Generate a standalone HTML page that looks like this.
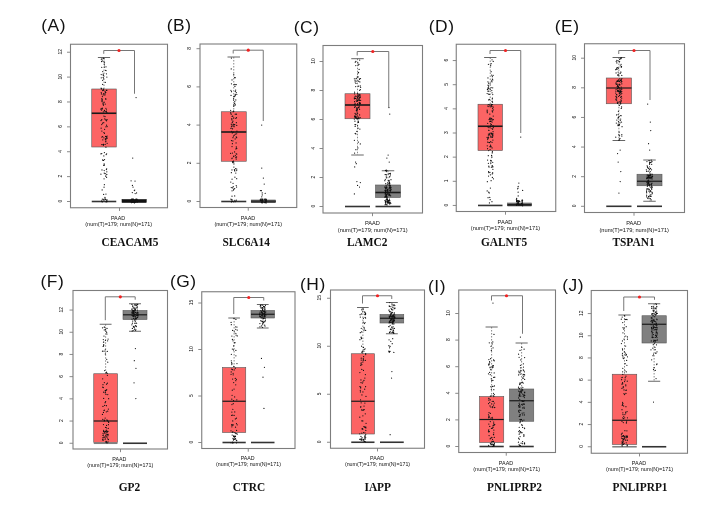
<!DOCTYPE html>
<html><head><meta charset="utf-8"><style>
html,body{margin:0;padding:0;background:#fff;}
body{width:711px;height:516px;overflow:hidden;}
svg{display:block;filter:blur(0.3px);}
</style></head><body>
<svg width="711" height="516" viewBox="0 0 711 516">
<rect width="711" height="516" fill="#fff"/>
<text x="41.3" y="30.6" style="font-family:&quot;Liberation Sans&quot;,sans-serif" font-size="17.4" font-weight="normal" text-anchor="start" fill="#111" letter-spacing="0.5">(A)</text>
<rect x="70.5" y="44.25" width="97" height="163.5" fill="none" stroke="#7d7d7d" stroke-width="1.1"/>
<line x1="67" y1="201.5" x2="70.5" y2="201.5" stroke="#7d7d7d" stroke-width="0.9"/>
<text x="62" y="201.5" style="font-family:&quot;Liberation Sans&quot;,sans-serif" font-size="6" font-weight="normal" text-anchor="middle" fill="#111" transform="translate(62 201.1) rotate(-90) scale(0.82 1) translate(-62 -201.5)">0</text>
<line x1="67" y1="176.62" x2="70.5" y2="176.62" stroke="#7d7d7d" stroke-width="0.9"/>
<text x="62" y="176.62" style="font-family:&quot;Liberation Sans&quot;,sans-serif" font-size="6" font-weight="normal" text-anchor="middle" fill="#111" transform="translate(62 176.22) rotate(-90) scale(0.82 1) translate(-62 -176.62)">2</text>
<line x1="67" y1="151.74" x2="70.5" y2="151.74" stroke="#7d7d7d" stroke-width="0.9"/>
<text x="62" y="151.74" style="font-family:&quot;Liberation Sans&quot;,sans-serif" font-size="6" font-weight="normal" text-anchor="middle" fill="#111" transform="translate(62 151.34) rotate(-90) scale(0.82 1) translate(-62 -151.74)">4</text>
<line x1="67" y1="126.86" x2="70.5" y2="126.86" stroke="#7d7d7d" stroke-width="0.9"/>
<text x="62" y="126.86" style="font-family:&quot;Liberation Sans&quot;,sans-serif" font-size="6" font-weight="normal" text-anchor="middle" fill="#111" transform="translate(62 126.46) rotate(-90) scale(0.82 1) translate(-62 -126.86)">6</text>
<line x1="67" y1="101.98" x2="70.5" y2="101.98" stroke="#7d7d7d" stroke-width="0.9"/>
<text x="62" y="101.98" style="font-family:&quot;Liberation Sans&quot;,sans-serif" font-size="6" font-weight="normal" text-anchor="middle" fill="#111" transform="translate(62 101.58) rotate(-90) scale(0.82 1) translate(-62 -101.98)">8</text>
<line x1="67" y1="77.1" x2="70.5" y2="77.1" stroke="#7d7d7d" stroke-width="0.9"/>
<text x="62" y="77.1" style="font-family:&quot;Liberation Sans&quot;,sans-serif" font-size="6" font-weight="normal" text-anchor="middle" fill="#111" transform="translate(62 76.7) rotate(-90) scale(0.82 1) translate(-62 -77.1)">10</text>
<line x1="67" y1="52.22" x2="70.5" y2="52.22" stroke="#7d7d7d" stroke-width="0.9"/>
<text x="62" y="52.22" style="font-family:&quot;Liberation Sans&quot;,sans-serif" font-size="6" font-weight="normal" text-anchor="middle" fill="#111" transform="translate(62 51.82) rotate(-90) scale(0.82 1) translate(-62 -52.22)">12</text>
<line x1="119.5" y1="207.75" x2="119.5" y2="210.95" stroke="#7d7d7d" stroke-width="0.9"/>
<text x="118.05" y="219.75" style="font-family:&quot;Liberation Sans&quot;,sans-serif" font-size="5.4" font-weight="normal" text-anchor="middle" fill="#111">PAAD</text>
<text x="118.7" y="225.9" style="font-family:&quot;Liberation Sans&quot;,sans-serif" font-size="5.45" font-weight="normal" text-anchor="middle" fill="#111">(num(T)=179; num(N)=171)</text>
<text x="0" y="0" style="font-family:&quot;Liberation Serif&quot;,serif" font-size="11.4" font-weight="bold" text-anchor="middle" fill="#111" transform="translate(130 246.3) scale(1 1.12)">CEACAM5</text>
<line x1="104" y1="57.5" x2="104" y2="89" stroke="#555" stroke-width="0.7" stroke-dasharray="1.5,1.5"/>
<line x1="97.88" y1="57.5" x2="110.12" y2="57.5" stroke="#555" stroke-width="0.9"/>
<rect x="91.75" y="89" width="24.5" height="58" fill="#fc6464" stroke="#555" stroke-width="0.6"/>
<line x1="91.75" y1="113.25" x2="116.25" y2="113.25" stroke="#1a1a1a" stroke-width="1.6"/>
<line x1="91.75" y1="201.5" x2="116.25" y2="201.5" stroke="#333" stroke-width="1.6"/>
<rect x="122" y="199.5" width="24.25" height="3" fill="#111" stroke="#111" stroke-width="0.6"/>
<line x1="103.75" y1="50.5" x2="134.5" y2="50.5" stroke="#777" stroke-width="1"/>
<line x1="103.75" y1="50.5" x2="103.75" y2="53.8" stroke="#777" stroke-width="1"/>
<line x1="134.5" y1="50.5" x2="134.5" y2="93.75" stroke="#777" stroke-width="1"/>
<circle cx="119" cy="50.5" r="1.6" fill="#f02222"/>
<text x="166.8" y="30.75" style="font-family:&quot;Liberation Sans&quot;,sans-serif" font-size="17.4" font-weight="normal" text-anchor="start" fill="#111" letter-spacing="0.5">(B)</text>
<rect x="200" y="44" width="96.75" height="163.5" fill="none" stroke="#7d7d7d" stroke-width="1.1"/>
<line x1="196.5" y1="201.5" x2="200" y2="201.5" stroke="#7d7d7d" stroke-width="0.9"/>
<text x="191" y="201.5" style="font-family:&quot;Liberation Sans&quot;,sans-serif" font-size="6" font-weight="normal" text-anchor="middle" fill="#111" transform="translate(191 201.1) rotate(-90) scale(0.82 1) translate(-191 -201.5)">0</text>
<line x1="196.5" y1="163.3" x2="200" y2="163.3" stroke="#7d7d7d" stroke-width="0.9"/>
<text x="191" y="163.3" style="font-family:&quot;Liberation Sans&quot;,sans-serif" font-size="6" font-weight="normal" text-anchor="middle" fill="#111" transform="translate(191 162.9) rotate(-90) scale(0.82 1) translate(-191 -163.3)">2</text>
<line x1="196.5" y1="125.1" x2="200" y2="125.1" stroke="#7d7d7d" stroke-width="0.9"/>
<text x="191" y="125.1" style="font-family:&quot;Liberation Sans&quot;,sans-serif" font-size="6" font-weight="normal" text-anchor="middle" fill="#111" transform="translate(191 124.7) rotate(-90) scale(0.82 1) translate(-191 -125.1)">4</text>
<line x1="196.5" y1="86.9" x2="200" y2="86.9" stroke="#7d7d7d" stroke-width="0.9"/>
<text x="191" y="86.9" style="font-family:&quot;Liberation Sans&quot;,sans-serif" font-size="6" font-weight="normal" text-anchor="middle" fill="#111" transform="translate(191 86.5) rotate(-90) scale(0.82 1) translate(-191 -86.9)">6</text>
<line x1="196.5" y1="48.7" x2="200" y2="48.7" stroke="#7d7d7d" stroke-width="0.9"/>
<text x="191" y="48.7" style="font-family:&quot;Liberation Sans&quot;,sans-serif" font-size="6" font-weight="normal" text-anchor="middle" fill="#111" transform="translate(191 48.3) rotate(-90) scale(0.82 1) translate(-191 -48.7)">8</text>
<line x1="248.25" y1="207.5" x2="248.25" y2="210.7" stroke="#7d7d7d" stroke-width="0.9"/>
<text x="248" y="220.03" style="font-family:&quot;Liberation Sans&quot;,sans-serif" font-size="5.47" font-weight="normal" text-anchor="middle" fill="#111">PAAD</text>
<text x="248.25" y="226.02" style="font-family:&quot;Liberation Sans&quot;,sans-serif" font-size="5.52" font-weight="normal" text-anchor="middle" fill="#111">(num(T)=179; num(N)=171)</text>
<text x="0" y="0" style="font-family:&quot;Liberation Serif&quot;,serif" font-size="11.4" font-weight="bold" text-anchor="middle" fill="#111" transform="translate(246.25 246.3) scale(1 1.12)">SLC6A14</text>
<line x1="233.75" y1="57" x2="233.75" y2="111.75" stroke="#555" stroke-width="0.7" stroke-dasharray="1.5,1.5"/>
<line x1="227.5" y1="57" x2="240" y2="57" stroke="#555" stroke-width="0.9"/>
<rect x="221.25" y="111.75" width="25" height="49.5" fill="#fc6464" stroke="#555" stroke-width="0.6"/>
<line x1="221.25" y1="132" x2="246.25" y2="132" stroke="#1a1a1a" stroke-width="1.6"/>
<line x1="221.25" y1="201.5" x2="246.25" y2="201.5" stroke="#333" stroke-width="1.6"/>
<rect x="251.25" y="200" width="24.25" height="2.5" fill="#808080" stroke="#555" stroke-width="0.6"/>
<line x1="251.25" y1="201.5" x2="275.5" y2="201.5" stroke="#1a1a1a" stroke-width="1.6"/>
<line x1="251.25" y1="201.5" x2="275.5" y2="201.5" stroke="#333" stroke-width="1.6"/>
<line x1="233.2" y1="50.2" x2="263.25" y2="50.2" stroke="#777" stroke-width="1"/>
<line x1="233.2" y1="50.2" x2="233.2" y2="53.5" stroke="#777" stroke-width="1"/>
<line x1="263.25" y1="50.2" x2="263.25" y2="121" stroke="#777" stroke-width="1"/>
<circle cx="248.25" cy="50.2" r="1.6" fill="#f02222"/>
<text x="293.8" y="32.75" style="font-family:&quot;Liberation Sans&quot;,sans-serif" font-size="17.4" font-weight="normal" text-anchor="start" fill="#111" letter-spacing="0.5">(C)</text>
<rect x="323" y="45.5" width="99.5" height="167.5" fill="none" stroke="#7d7d7d" stroke-width="1.1"/>
<line x1="319.5" y1="206.5" x2="323" y2="206.5" stroke="#7d7d7d" stroke-width="0.9"/>
<text x="314.75" y="206.5" style="font-family:&quot;Liberation Sans&quot;,sans-serif" font-size="6" font-weight="normal" text-anchor="middle" fill="#111" transform="translate(314.75 206.1) rotate(-90) scale(0.82 1) translate(-314.75 -206.5)">0</text>
<line x1="319.5" y1="177.5" x2="323" y2="177.5" stroke="#7d7d7d" stroke-width="0.9"/>
<text x="314.75" y="177.5" style="font-family:&quot;Liberation Sans&quot;,sans-serif" font-size="6" font-weight="normal" text-anchor="middle" fill="#111" transform="translate(314.75 177.1) rotate(-90) scale(0.82 1) translate(-314.75 -177.5)">2</text>
<line x1="319.5" y1="148.5" x2="323" y2="148.5" stroke="#7d7d7d" stroke-width="0.9"/>
<text x="314.75" y="148.5" style="font-family:&quot;Liberation Sans&quot;,sans-serif" font-size="6" font-weight="normal" text-anchor="middle" fill="#111" transform="translate(314.75 148.1) rotate(-90) scale(0.82 1) translate(-314.75 -148.5)">4</text>
<line x1="319.5" y1="119.5" x2="323" y2="119.5" stroke="#7d7d7d" stroke-width="0.9"/>
<text x="314.75" y="119.5" style="font-family:&quot;Liberation Sans&quot;,sans-serif" font-size="6" font-weight="normal" text-anchor="middle" fill="#111" transform="translate(314.75 119.1) rotate(-90) scale(0.82 1) translate(-314.75 -119.5)">6</text>
<line x1="319.5" y1="90.5" x2="323" y2="90.5" stroke="#7d7d7d" stroke-width="0.9"/>
<text x="314.75" y="90.5" style="font-family:&quot;Liberation Sans&quot;,sans-serif" font-size="6" font-weight="normal" text-anchor="middle" fill="#111" transform="translate(314.75 90.1) rotate(-90) scale(0.82 1) translate(-314.75 -90.5)">8</text>
<line x1="319.5" y1="61.5" x2="323" y2="61.5" stroke="#7d7d7d" stroke-width="0.9"/>
<text x="314.75" y="61.5" style="font-family:&quot;Liberation Sans&quot;,sans-serif" font-size="6" font-weight="normal" text-anchor="middle" fill="#111" transform="translate(314.75 61.1) rotate(-90) scale(0.82 1) translate(-314.75 -61.5)">10</text>
<line x1="372.5" y1="213" x2="372.5" y2="216.2" stroke="#7d7d7d" stroke-width="0.9"/>
<text x="372.4" y="225.09" style="font-family:&quot;Liberation Sans&quot;,sans-serif" font-size="5.65" font-weight="normal" text-anchor="middle" fill="#111">PAAD</text>
<text x="372.7" y="231.77" style="font-family:&quot;Liberation Sans&quot;,sans-serif" font-size="5.7" font-weight="normal" text-anchor="middle" fill="#111">(num(T)=179; num(N)=171)</text>
<text x="0" y="0" style="font-family:&quot;Liberation Serif&quot;,serif" font-size="11.4" font-weight="bold" text-anchor="middle" fill="#111" transform="translate(367.25 246.3) scale(1 1.12)">LAMC2</text>
<line x1="357.5" y1="58.7" x2="357.5" y2="93.75" stroke="#555" stroke-width="0.7" stroke-dasharray="1.5,1.5"/>
<line x1="351.25" y1="58.7" x2="363.75" y2="58.7" stroke="#555" stroke-width="0.9"/>
<line x1="357.5" y1="118.75" x2="357.5" y2="155" stroke="#555" stroke-width="0.7" stroke-dasharray="1.5,1.5"/>
<line x1="351.25" y1="155" x2="363.75" y2="155" stroke="#555" stroke-width="0.9"/>
<rect x="345" y="93.75" width="25" height="25" fill="#fc6464" stroke="#555" stroke-width="0.6"/>
<line x1="345" y1="105" x2="370" y2="105" stroke="#1a1a1a" stroke-width="1.6"/>
<line x1="345" y1="206.5" x2="370" y2="206.5" stroke="#333" stroke-width="1.6"/>
<line x1="388" y1="170.75" x2="388" y2="185" stroke="#555" stroke-width="0.7" stroke-dasharray="1.5,1.5"/>
<line x1="381.75" y1="170.75" x2="394.25" y2="170.75" stroke="#555" stroke-width="0.9"/>
<rect x="375.5" y="185" width="25" height="12.5" fill="#808080" stroke="#555" stroke-width="0.6"/>
<line x1="375.5" y1="192.5" x2="400.5" y2="192.5" stroke="#1a1a1a" stroke-width="1.6"/>
<line x1="375.5" y1="206.5" x2="400.5" y2="206.5" stroke="#333" stroke-width="1.6"/>
<line x1="357.2" y1="51.5" x2="388.75" y2="51.5" stroke="#777" stroke-width="1"/>
<line x1="357.2" y1="51.5" x2="357.2" y2="55.5" stroke="#777" stroke-width="1"/>
<line x1="388.75" y1="51.5" x2="388.75" y2="107.5" stroke="#777" stroke-width="1"/>
<circle cx="372.8" cy="51.5" r="1.6" fill="#f02222"/>
<text x="428.8" y="31.5" style="font-family:&quot;Liberation Sans&quot;,sans-serif" font-size="17.4" font-weight="normal" text-anchor="start" fill="#111" letter-spacing="0.5">(D)</text>
<rect x="456.25" y="44.25" width="99.5" height="167.25" fill="none" stroke="#7d7d7d" stroke-width="1.1"/>
<line x1="452.75" y1="205.45" x2="456.25" y2="205.45" stroke="#7d7d7d" stroke-width="0.9"/>
<text x="448" y="205.45" style="font-family:&quot;Liberation Sans&quot;,sans-serif" font-size="6" font-weight="normal" text-anchor="middle" fill="#111" transform="translate(448 205.05) rotate(-90) scale(0.82 1) translate(-448 -205.45)">0</text>
<line x1="452.75" y1="181.3" x2="456.25" y2="181.3" stroke="#7d7d7d" stroke-width="0.9"/>
<text x="448" y="181.3" style="font-family:&quot;Liberation Sans&quot;,sans-serif" font-size="6" font-weight="normal" text-anchor="middle" fill="#111" transform="translate(448 180.9) rotate(-90) scale(0.82 1) translate(-448 -181.3)">1</text>
<line x1="452.75" y1="157.15" x2="456.25" y2="157.15" stroke="#7d7d7d" stroke-width="0.9"/>
<text x="448" y="157.15" style="font-family:&quot;Liberation Sans&quot;,sans-serif" font-size="6" font-weight="normal" text-anchor="middle" fill="#111" transform="translate(448 156.75) rotate(-90) scale(0.82 1) translate(-448 -157.15)">2</text>
<line x1="452.75" y1="133" x2="456.25" y2="133" stroke="#7d7d7d" stroke-width="0.9"/>
<text x="448" y="133" style="font-family:&quot;Liberation Sans&quot;,sans-serif" font-size="6" font-weight="normal" text-anchor="middle" fill="#111" transform="translate(448 132.6) rotate(-90) scale(0.82 1) translate(-448 -133)">3</text>
<line x1="452.75" y1="108.85" x2="456.25" y2="108.85" stroke="#7d7d7d" stroke-width="0.9"/>
<text x="448" y="108.85" style="font-family:&quot;Liberation Sans&quot;,sans-serif" font-size="6" font-weight="normal" text-anchor="middle" fill="#111" transform="translate(448 108.45) rotate(-90) scale(0.82 1) translate(-448 -108.85)">4</text>
<line x1="452.75" y1="84.7" x2="456.25" y2="84.7" stroke="#7d7d7d" stroke-width="0.9"/>
<text x="448" y="84.7" style="font-family:&quot;Liberation Sans&quot;,sans-serif" font-size="6" font-weight="normal" text-anchor="middle" fill="#111" transform="translate(448 84.3) rotate(-90) scale(0.82 1) translate(-448 -84.7)">5</text>
<line x1="452.75" y1="60.55" x2="456.25" y2="60.55" stroke="#7d7d7d" stroke-width="0.9"/>
<text x="448" y="60.55" style="font-family:&quot;Liberation Sans&quot;,sans-serif" font-size="6" font-weight="normal" text-anchor="middle" fill="#111" transform="translate(448 60.15) rotate(-90) scale(0.82 1) translate(-448 -60.55)">6</text>
<line x1="505.5" y1="211.5" x2="505.5" y2="214.7" stroke="#7d7d7d" stroke-width="0.9"/>
<text x="505" y="223.88" style="font-family:&quot;Liberation Sans&quot;,sans-serif" font-size="5.62" font-weight="normal" text-anchor="middle" fill="#111">PAAD</text>
<text x="505.5" y="230.46" style="font-family:&quot;Liberation Sans&quot;,sans-serif" font-size="5.67" font-weight="normal" text-anchor="middle" fill="#111">(num(T)=179; num(N)=171)</text>
<text x="0" y="0" style="font-family:&quot;Liberation Serif&quot;,serif" font-size="11.4" font-weight="bold" text-anchor="middle" fill="#111" transform="translate(504 246.3) scale(1 1.12)">GALNT5</text>
<line x1="490.25" y1="57.5" x2="490.25" y2="104.25" stroke="#555" stroke-width="0.7" stroke-dasharray="1.5,1.5"/>
<line x1="484.12" y1="57.5" x2="496.38" y2="57.5" stroke="#555" stroke-width="0.9"/>
<rect x="478" y="104.25" width="24.5" height="46.25" fill="#fc6464" stroke="#555" stroke-width="0.6"/>
<line x1="478" y1="126.25" x2="502.5" y2="126.25" stroke="#1a1a1a" stroke-width="1.6"/>
<line x1="478" y1="205.45" x2="502.5" y2="205.45" stroke="#333" stroke-width="1.6"/>
<rect x="507.5" y="203" width="24" height="2.5" fill="#808080" stroke="#555" stroke-width="0.6"/>
<line x1="507.5" y1="204.75" x2="531.5" y2="204.75" stroke="#1a1a1a" stroke-width="1.6"/>
<line x1="507.5" y1="205.45" x2="531.5" y2="205.45" stroke="#333" stroke-width="1.6"/>
<line x1="490" y1="50.5" x2="520.75" y2="50.5" stroke="#777" stroke-width="1"/>
<line x1="490" y1="50.5" x2="490" y2="54" stroke="#777" stroke-width="1"/>
<line x1="520.75" y1="50.5" x2="520.75" y2="133" stroke="#777" stroke-width="1"/>
<circle cx="505.5" cy="50.5" r="1.6" fill="#f02222"/>
<text x="554.8" y="32" style="font-family:&quot;Liberation Sans&quot;,sans-serif" font-size="17.4" font-weight="normal" text-anchor="start" fill="#111" letter-spacing="0.5">(E)</text>
<rect x="584.5" y="43.75" width="100" height="168.75" fill="none" stroke="#7d7d7d" stroke-width="1.1"/>
<line x1="581" y1="206.3" x2="584.5" y2="206.3" stroke="#7d7d7d" stroke-width="0.9"/>
<text x="576" y="206.3" style="font-family:&quot;Liberation Sans&quot;,sans-serif" font-size="6" font-weight="normal" text-anchor="middle" fill="#111" transform="translate(576 205.9) rotate(-90) scale(0.82 1) translate(-576 -206.3)">0</text>
<line x1="581" y1="176.68" x2="584.5" y2="176.68" stroke="#7d7d7d" stroke-width="0.9"/>
<text x="576" y="176.68" style="font-family:&quot;Liberation Sans&quot;,sans-serif" font-size="6" font-weight="normal" text-anchor="middle" fill="#111" transform="translate(576 176.28) rotate(-90) scale(0.82 1) translate(-576 -176.68)">2</text>
<line x1="581" y1="147.06" x2="584.5" y2="147.06" stroke="#7d7d7d" stroke-width="0.9"/>
<text x="576" y="147.06" style="font-family:&quot;Liberation Sans&quot;,sans-serif" font-size="6" font-weight="normal" text-anchor="middle" fill="#111" transform="translate(576 146.66) rotate(-90) scale(0.82 1) translate(-576 -147.06)">4</text>
<line x1="581" y1="117.44" x2="584.5" y2="117.44" stroke="#7d7d7d" stroke-width="0.9"/>
<text x="576" y="117.44" style="font-family:&quot;Liberation Sans&quot;,sans-serif" font-size="6" font-weight="normal" text-anchor="middle" fill="#111" transform="translate(576 117.04) rotate(-90) scale(0.82 1) translate(-576 -117.44)">6</text>
<line x1="581" y1="87.82" x2="584.5" y2="87.82" stroke="#7d7d7d" stroke-width="0.9"/>
<text x="576" y="87.82" style="font-family:&quot;Liberation Sans&quot;,sans-serif" font-size="6" font-weight="normal" text-anchor="middle" fill="#111" transform="translate(576 87.42) rotate(-90) scale(0.82 1) translate(-576 -87.82)">8</text>
<line x1="581" y1="58.2" x2="584.5" y2="58.2" stroke="#7d7d7d" stroke-width="0.9"/>
<text x="576" y="58.2" style="font-family:&quot;Liberation Sans&quot;,sans-serif" font-size="6" font-weight="normal" text-anchor="middle" fill="#111" transform="translate(576 57.8) rotate(-90) scale(0.82 1) translate(-576 -58.2)">10</text>
<line x1="634" y1="212.5" x2="634" y2="215.7" stroke="#7d7d7d" stroke-width="0.9"/>
<text x="633.6" y="224.98" style="font-family:&quot;Liberation Sans&quot;,sans-serif" font-size="5.61" font-weight="normal" text-anchor="middle" fill="#111">PAAD</text>
<text x="634.2" y="231.56" style="font-family:&quot;Liberation Sans&quot;,sans-serif" font-size="5.66" font-weight="normal" text-anchor="middle" fill="#111">(num(T)=179; num(N)=171)</text>
<text x="0" y="0" style="font-family:&quot;Liberation Serif&quot;,serif" font-size="11.4" font-weight="bold" text-anchor="middle" fill="#111" transform="translate(633.5 246.3) scale(1 1.12)">TSPAN1</text>
<line x1="618.88" y1="57.5" x2="618.88" y2="78" stroke="#555" stroke-width="0.7" stroke-dasharray="1.5,1.5"/>
<line x1="612.56" y1="57.5" x2="625.19" y2="57.5" stroke="#555" stroke-width="0.9"/>
<line x1="618.88" y1="103.75" x2="618.88" y2="140.5" stroke="#555" stroke-width="0.7" stroke-dasharray="1.5,1.5"/>
<line x1="612.56" y1="140.5" x2="625.19" y2="140.5" stroke="#555" stroke-width="0.9"/>
<rect x="606.25" y="78" width="25.25" height="25.75" fill="#fc6464" stroke="#555" stroke-width="0.6"/>
<line x1="606.25" y1="88" x2="631.5" y2="88" stroke="#1a1a1a" stroke-width="1.2"/>
<line x1="606.25" y1="206.3" x2="631.5" y2="206.3" stroke="#333" stroke-width="1.6"/>
<line x1="649.5" y1="160" x2="649.5" y2="174.25" stroke="#555" stroke-width="0.7" stroke-dasharray="1.5,1.5"/>
<line x1="643.25" y1="160" x2="655.75" y2="160" stroke="#555" stroke-width="0.9"/>
<line x1="649.5" y1="185.75" x2="649.5" y2="201.25" stroke="#555" stroke-width="0.7" stroke-dasharray="1.5,1.5"/>
<line x1="643.25" y1="201.25" x2="655.75" y2="201.25" stroke="#555" stroke-width="0.9"/>
<rect x="637" y="174.25" width="25" height="11.5" fill="#808080" stroke="#555" stroke-width="0.6"/>
<line x1="637" y1="181.25" x2="662" y2="181.25" stroke="#1a1a1a" stroke-width="1.2"/>
<line x1="637" y1="206.3" x2="662" y2="206.3" stroke="#333" stroke-width="1.6"/>
<line x1="618.75" y1="50.5" x2="650" y2="50.5" stroke="#777" stroke-width="1"/>
<line x1="618.75" y1="50.5" x2="618.75" y2="54" stroke="#777" stroke-width="1"/>
<line x1="650" y1="50.5" x2="650" y2="100" stroke="#777" stroke-width="1"/>
<circle cx="634" cy="50.5" r="1.6" fill="#f02222"/>
<text x="40.55" y="287" style="font-family:&quot;Liberation Sans&quot;,sans-serif" font-size="17.4" font-weight="normal" text-anchor="start" fill="#111" letter-spacing="0.5">(F)</text>
<rect x="73" y="290.5" width="94.5" height="158.5" fill="none" stroke="#7d7d7d" stroke-width="1.1"/>
<line x1="69.5" y1="443.25" x2="73" y2="443.25" stroke="#7d7d7d" stroke-width="0.9"/>
<text x="63.5" y="443.25" style="font-family:&quot;Liberation Sans&quot;,sans-serif" font-size="6" font-weight="normal" text-anchor="middle" fill="#111" transform="translate(63.5 442.85) rotate(-90) scale(0.82 1) translate(-63.5 -443.25)">0</text>
<line x1="69.5" y1="421.05" x2="73" y2="421.05" stroke="#7d7d7d" stroke-width="0.9"/>
<text x="63.5" y="421.05" style="font-family:&quot;Liberation Sans&quot;,sans-serif" font-size="6" font-weight="normal" text-anchor="middle" fill="#111" transform="translate(63.5 420.65) rotate(-90) scale(0.82 1) translate(-63.5 -421.05)">2</text>
<line x1="69.5" y1="398.85" x2="73" y2="398.85" stroke="#7d7d7d" stroke-width="0.9"/>
<text x="63.5" y="398.85" style="font-family:&quot;Liberation Sans&quot;,sans-serif" font-size="6" font-weight="normal" text-anchor="middle" fill="#111" transform="translate(63.5 398.45) rotate(-90) scale(0.82 1) translate(-63.5 -398.85)">4</text>
<line x1="69.5" y1="376.65" x2="73" y2="376.65" stroke="#7d7d7d" stroke-width="0.9"/>
<text x="63.5" y="376.65" style="font-family:&quot;Liberation Sans&quot;,sans-serif" font-size="6" font-weight="normal" text-anchor="middle" fill="#111" transform="translate(63.5 376.25) rotate(-90) scale(0.82 1) translate(-63.5 -376.65)">6</text>
<line x1="69.5" y1="354.45" x2="73" y2="354.45" stroke="#7d7d7d" stroke-width="0.9"/>
<text x="63.5" y="354.45" style="font-family:&quot;Liberation Sans&quot;,sans-serif" font-size="6" font-weight="normal" text-anchor="middle" fill="#111" transform="translate(63.5 354.05) rotate(-90) scale(0.82 1) translate(-63.5 -354.45)">8</text>
<line x1="69.5" y1="332.25" x2="73" y2="332.25" stroke="#7d7d7d" stroke-width="0.9"/>
<text x="63.5" y="332.25" style="font-family:&quot;Liberation Sans&quot;,sans-serif" font-size="6" font-weight="normal" text-anchor="middle" fill="#111" transform="translate(63.5 331.85) rotate(-90) scale(0.82 1) translate(-63.5 -332.25)">10</text>
<line x1="69.5" y1="310.05" x2="73" y2="310.05" stroke="#7d7d7d" stroke-width="0.9"/>
<text x="63.5" y="310.05" style="font-family:&quot;Liberation Sans&quot;,sans-serif" font-size="6" font-weight="normal" text-anchor="middle" fill="#111" transform="translate(63.5 309.65) rotate(-90) scale(0.82 1) translate(-63.5 -310.05)">12</text>
<line x1="120.5" y1="449" x2="120.5" y2="452.2" stroke="#7d7d7d" stroke-width="0.9"/>
<text x="119.4" y="461.28" style="font-family:&quot;Liberation Sans&quot;,sans-serif" font-size="5.34" font-weight="normal" text-anchor="middle" fill="#111">PAAD</text>
<text x="120.2" y="467.48" style="font-family:&quot;Liberation Sans&quot;,sans-serif" font-size="5.38" font-weight="normal" text-anchor="middle" fill="#111">(num(T)=179; num(N)=171)</text>
<text x="0" y="0" style="font-family:&quot;Liberation Serif&quot;,serif" font-size="11.4" font-weight="bold" text-anchor="middle" fill="#111" transform="translate(129.5 491.3) scale(1 1.12)">GP2</text>
<line x1="105.62" y1="324.25" x2="105.62" y2="373.75" stroke="#555" stroke-width="0.7" stroke-dasharray="1.5,1.5"/>
<line x1="99.69" y1="324.25" x2="111.56" y2="324.25" stroke="#555" stroke-width="0.9"/>
<rect x="93.75" y="373.75" width="23.75" height="68.75" fill="#fc6464" stroke="#555" stroke-width="0.6"/>
<line x1="93.75" y1="421" x2="117.5" y2="421" stroke="#1a1a1a" stroke-width="1.2"/>
<line x1="93.75" y1="443.25" x2="117.5" y2="443.25" stroke="#808080" stroke-width="1.6"/>
<line x1="135" y1="303.75" x2="135" y2="310.5" stroke="#555" stroke-width="0.7" stroke-dasharray="1.5,1.5"/>
<line x1="129" y1="303.75" x2="141" y2="303.75" stroke="#555" stroke-width="0.9"/>
<line x1="135" y1="319.5" x2="135" y2="331.25" stroke="#555" stroke-width="0.7" stroke-dasharray="1.5,1.5"/>
<line x1="129" y1="331.25" x2="141" y2="331.25" stroke="#555" stroke-width="0.9"/>
<rect x="123" y="310.5" width="24" height="9" fill="#808080" stroke="#555" stroke-width="0.6"/>
<line x1="123" y1="314.8" x2="147" y2="314.8" stroke="#1a1a1a" stroke-width="1.2"/>
<line x1="123" y1="443.25" x2="147" y2="443.25" stroke="#333" stroke-width="1.6"/>
<line x1="105.3" y1="296.8" x2="135.2" y2="296.8" stroke="#777" stroke-width="1"/>
<line x1="105.3" y1="296.8" x2="105.3" y2="320.2" stroke="#777" stroke-width="1"/>
<line x1="135.2" y1="296.8" x2="135.2" y2="299.7" stroke="#777" stroke-width="1"/>
<circle cx="120.3" cy="296.8" r="1.6" fill="#f02222"/>
<text x="170.05" y="287" style="font-family:&quot;Liberation Sans&quot;,sans-serif" font-size="17.4" font-weight="normal" text-anchor="start" fill="#111" letter-spacing="0.5">(G)</text>
<rect x="201.75" y="291.75" width="93.25" height="156.75" fill="none" stroke="#7d7d7d" stroke-width="1.1"/>
<line x1="198.25" y1="442.5" x2="201.75" y2="442.5" stroke="#7d7d7d" stroke-width="0.9"/>
<text x="193.5" y="442.5" style="font-family:&quot;Liberation Sans&quot;,sans-serif" font-size="6" font-weight="normal" text-anchor="middle" fill="#111" transform="translate(193.5 442.1) rotate(-90) scale(0.82 1) translate(-193.5 -442.5)">0</text>
<line x1="198.25" y1="396" x2="201.75" y2="396" stroke="#7d7d7d" stroke-width="0.9"/>
<text x="193.5" y="396" style="font-family:&quot;Liberation Sans&quot;,sans-serif" font-size="6" font-weight="normal" text-anchor="middle" fill="#111" transform="translate(193.5 395.6) rotate(-90) scale(0.82 1) translate(-193.5 -396)">5</text>
<line x1="198.25" y1="349.5" x2="201.75" y2="349.5" stroke="#7d7d7d" stroke-width="0.9"/>
<text x="193.5" y="349.5" style="font-family:&quot;Liberation Sans&quot;,sans-serif" font-size="6" font-weight="normal" text-anchor="middle" fill="#111" transform="translate(193.5 349.1) rotate(-90) scale(0.82 1) translate(-193.5 -349.5)">10</text>
<line x1="198.25" y1="303" x2="201.75" y2="303" stroke="#7d7d7d" stroke-width="0.9"/>
<text x="193.5" y="303" style="font-family:&quot;Liberation Sans&quot;,sans-serif" font-size="6" font-weight="normal" text-anchor="middle" fill="#111" transform="translate(193.5 302.6) rotate(-90) scale(0.82 1) translate(-193.5 -303)">15</text>
<line x1="248.25" y1="448.5" x2="248.25" y2="451.7" stroke="#7d7d7d" stroke-width="0.9"/>
<text x="247.6" y="460.44" style="font-family:&quot;Liberation Sans&quot;,sans-serif" font-size="5.25" font-weight="normal" text-anchor="middle" fill="#111">PAAD</text>
<text x="248.5" y="466.36" style="font-family:&quot;Liberation Sans&quot;,sans-serif" font-size="5.29" font-weight="normal" text-anchor="middle" fill="#111">(num(T)=179; num(N)=171)</text>
<text x="0" y="0" style="font-family:&quot;Liberation Serif&quot;,serif" font-size="11.4" font-weight="bold" text-anchor="middle" fill="#111" transform="translate(249 491.05) scale(1 1.12)">CTRC</text>
<line x1="234.12" y1="318" x2="234.12" y2="367.5" stroke="#555" stroke-width="0.7" stroke-dasharray="1.5,1.5"/>
<line x1="228.31" y1="318" x2="239.94" y2="318" stroke="#555" stroke-width="0.9"/>
<rect x="222.5" y="367.5" width="23.25" height="65" fill="#fc6464" stroke="#555" stroke-width="0.6"/>
<line x1="222.5" y1="401.25" x2="245.75" y2="401.25" stroke="#1a1a1a" stroke-width="1.2"/>
<line x1="222.5" y1="442.5" x2="245.75" y2="442.5" stroke="#333" stroke-width="1.6"/>
<line x1="262.75" y1="304.5" x2="262.75" y2="310.5" stroke="#555" stroke-width="0.7" stroke-dasharray="1.5,1.5"/>
<line x1="256.88" y1="304.5" x2="268.62" y2="304.5" stroke="#555" stroke-width="0.9"/>
<line x1="262.75" y1="318" x2="262.75" y2="328" stroke="#555" stroke-width="0.7" stroke-dasharray="1.5,1.5"/>
<line x1="256.88" y1="328" x2="268.62" y2="328" stroke="#555" stroke-width="0.9"/>
<rect x="251" y="310.5" width="23.5" height="7.5" fill="#808080" stroke="#555" stroke-width="0.6"/>
<line x1="251" y1="314.25" x2="274.5" y2="314.25" stroke="#1a1a1a" stroke-width="1.2"/>
<line x1="251" y1="442.5" x2="274.5" y2="442.5" stroke="#333" stroke-width="1.6"/>
<line x1="233.75" y1="297.5" x2="263.75" y2="297.5" stroke="#777" stroke-width="1"/>
<line x1="233.75" y1="297.5" x2="233.75" y2="314" stroke="#777" stroke-width="1"/>
<line x1="263.75" y1="297.5" x2="263.75" y2="300.5" stroke="#777" stroke-width="1"/>
<circle cx="248.75" cy="297.5" r="1.6" fill="#f02222"/>
<text x="300.05" y="289.5" style="font-family:&quot;Liberation Sans&quot;,sans-serif" font-size="17.4" font-weight="normal" text-anchor="start" fill="#111" letter-spacing="0.5">(H)</text>
<rect x="330.5" y="290" width="94" height="158.25" fill="none" stroke="#7d7d7d" stroke-width="1.1"/>
<line x1="327" y1="442.25" x2="330.5" y2="442.25" stroke="#7d7d7d" stroke-width="0.9"/>
<text x="321" y="442.25" style="font-family:&quot;Liberation Sans&quot;,sans-serif" font-size="6" font-weight="normal" text-anchor="middle" fill="#111" transform="translate(321 441.85) rotate(-90) scale(0.82 1) translate(-321 -442.25)">0</text>
<line x1="327" y1="394.25" x2="330.5" y2="394.25" stroke="#7d7d7d" stroke-width="0.9"/>
<text x="321" y="394.25" style="font-family:&quot;Liberation Sans&quot;,sans-serif" font-size="6" font-weight="normal" text-anchor="middle" fill="#111" transform="translate(321 393.85) rotate(-90) scale(0.82 1) translate(-321 -394.25)">5</text>
<line x1="327" y1="346.25" x2="330.5" y2="346.25" stroke="#7d7d7d" stroke-width="0.9"/>
<text x="321" y="346.25" style="font-family:&quot;Liberation Sans&quot;,sans-serif" font-size="6" font-weight="normal" text-anchor="middle" fill="#111" transform="translate(321 345.85) rotate(-90) scale(0.82 1) translate(-321 -346.25)">10</text>
<line x1="327" y1="298.25" x2="330.5" y2="298.25" stroke="#7d7d7d" stroke-width="0.9"/>
<text x="321" y="298.25" style="font-family:&quot;Liberation Sans&quot;,sans-serif" font-size="6" font-weight="normal" text-anchor="middle" fill="#111" transform="translate(321 297.85) rotate(-90) scale(0.82 1) translate(-321 -298.25)">15</text>
<line x1="377.5" y1="448.25" x2="377.5" y2="451.45" stroke="#7d7d7d" stroke-width="0.9"/>
<text x="377" y="460.45" style="font-family:&quot;Liberation Sans&quot;,sans-serif" font-size="5.27" font-weight="normal" text-anchor="middle" fill="#111">PAAD</text>
<text x="377.5" y="466.36" style="font-family:&quot;Liberation Sans&quot;,sans-serif" font-size="5.32" font-weight="normal" text-anchor="middle" fill="#111">(num(T)=179; num(N)=171)</text>
<text x="0" y="0" style="font-family:&quot;Liberation Serif&quot;,serif" font-size="11.4" font-weight="bold" text-anchor="middle" fill="#111" transform="translate(377.75 491.05) scale(1 1.12)">IAPP</text>
<line x1="362.88" y1="307.5" x2="362.88" y2="353.75" stroke="#555" stroke-width="0.7" stroke-dasharray="1.5,1.5"/>
<line x1="357.06" y1="307.5" x2="368.69" y2="307.5" stroke="#555" stroke-width="0.9"/>
<rect x="351.25" y="353.75" width="23.25" height="80.25" fill="#fc6464" stroke="#555" stroke-width="0.6"/>
<line x1="351.25" y1="401.25" x2="374.5" y2="401.25" stroke="#1a1a1a" stroke-width="1.2"/>
<line x1="351.25" y1="442.25" x2="374.5" y2="442.25" stroke="#333" stroke-width="1.6"/>
<line x1="391.88" y1="302.5" x2="391.88" y2="314.5" stroke="#555" stroke-width="0.7" stroke-dasharray="1.5,1.5"/>
<line x1="385.94" y1="302.5" x2="397.81" y2="302.5" stroke="#555" stroke-width="0.9"/>
<line x1="391.88" y1="323" x2="391.88" y2="333.75" stroke="#555" stroke-width="0.7" stroke-dasharray="1.5,1.5"/>
<line x1="385.94" y1="333.75" x2="397.81" y2="333.75" stroke="#555" stroke-width="0.9"/>
<rect x="380" y="314.5" width="23.75" height="8.5" fill="#808080" stroke="#555" stroke-width="0.6"/>
<line x1="380" y1="318.25" x2="403.75" y2="318.25" stroke="#1a1a1a" stroke-width="1.2"/>
<line x1="380" y1="442.25" x2="403.75" y2="442.25" stroke="#333" stroke-width="1.6"/>
<line x1="362.5" y1="295.75" x2="391.75" y2="295.75" stroke="#777" stroke-width="1"/>
<line x1="362.5" y1="295.75" x2="362.5" y2="303.5" stroke="#777" stroke-width="1"/>
<line x1="391.75" y1="295.75" x2="391.75" y2="299" stroke="#777" stroke-width="1"/>
<circle cx="377.5" cy="295.75" r="1.6" fill="#f02222"/>
<text x="428.05" y="292" style="font-family:&quot;Liberation Sans&quot;,sans-serif" font-size="17.4" font-weight="normal" text-anchor="start" fill="#111" letter-spacing="0.5">(I)</text>
<rect x="458.75" y="290" width="96.75" height="162.5" fill="none" stroke="#7d7d7d" stroke-width="1.1"/>
<line x1="455.25" y1="446.5" x2="458.75" y2="446.5" stroke="#7d7d7d" stroke-width="0.9"/>
<text x="449.75" y="446.5" style="font-family:&quot;Liberation Sans&quot;,sans-serif" font-size="6" font-weight="normal" text-anchor="middle" fill="#111" transform="translate(449.75 446.1) rotate(-90) scale(0.82 1) translate(-449.75 -446.5)">0</text>
<line x1="455.25" y1="419.9" x2="458.75" y2="419.9" stroke="#7d7d7d" stroke-width="0.9"/>
<text x="449.75" y="419.9" style="font-family:&quot;Liberation Sans&quot;,sans-serif" font-size="6" font-weight="normal" text-anchor="middle" fill="#111" transform="translate(449.75 419.5) rotate(-90) scale(0.82 1) translate(-449.75 -419.9)">2</text>
<line x1="455.25" y1="393.3" x2="458.75" y2="393.3" stroke="#7d7d7d" stroke-width="0.9"/>
<text x="449.75" y="393.3" style="font-family:&quot;Liberation Sans&quot;,sans-serif" font-size="6" font-weight="normal" text-anchor="middle" fill="#111" transform="translate(449.75 392.9) rotate(-90) scale(0.82 1) translate(-449.75 -393.3)">4</text>
<line x1="455.25" y1="366.7" x2="458.75" y2="366.7" stroke="#7d7d7d" stroke-width="0.9"/>
<text x="449.75" y="366.7" style="font-family:&quot;Liberation Sans&quot;,sans-serif" font-size="6" font-weight="normal" text-anchor="middle" fill="#111" transform="translate(449.75 366.3) rotate(-90) scale(0.82 1) translate(-449.75 -366.7)">6</text>
<line x1="455.25" y1="340.1" x2="458.75" y2="340.1" stroke="#7d7d7d" stroke-width="0.9"/>
<text x="449.75" y="340.1" style="font-family:&quot;Liberation Sans&quot;,sans-serif" font-size="6" font-weight="normal" text-anchor="middle" fill="#111" transform="translate(449.75 339.7) rotate(-90) scale(0.82 1) translate(-449.75 -340.1)">8</text>
<line x1="455.25" y1="313.5" x2="458.75" y2="313.5" stroke="#7d7d7d" stroke-width="0.9"/>
<text x="449.75" y="313.5" style="font-family:&quot;Liberation Sans&quot;,sans-serif" font-size="6" font-weight="normal" text-anchor="middle" fill="#111" transform="translate(449.75 313.1) rotate(-90) scale(0.82 1) translate(-449.75 -313.5)">10</text>
<line x1="506.25" y1="452.5" x2="506.25" y2="455.7" stroke="#7d7d7d" stroke-width="0.9"/>
<text x="506" y="464.7" style="font-family:&quot;Liberation Sans&quot;,sans-serif" font-size="5.4" font-weight="normal" text-anchor="middle" fill="#111">PAAD</text>
<text x="506.7" y="470.9" style="font-family:&quot;Liberation Sans&quot;,sans-serif" font-size="5.45" font-weight="normal" text-anchor="middle" fill="#111">(num(T)=179; num(N)=171)</text>
<text x="0" y="0" style="font-family:&quot;Liberation Serif&quot;,serif" font-size="11.4" font-weight="bold" text-anchor="middle" fill="#111" transform="translate(514.5 491.3) scale(1 1.12)">PNLIPRP2</text>
<line x1="491.62" y1="327" x2="491.62" y2="396.5" stroke="#555" stroke-width="0.7" stroke-dasharray="1.5,1.5"/>
<line x1="485.56" y1="327" x2="497.69" y2="327" stroke="#555" stroke-width="0.9"/>
<rect x="479.5" y="396.5" width="24.25" height="46" fill="#fc6464" stroke="#555" stroke-width="0.6"/>
<line x1="479.5" y1="419.5" x2="503.75" y2="419.5" stroke="#1a1a1a" stroke-width="1.2"/>
<line x1="479.5" y1="446.5" x2="503.75" y2="446.5" stroke="#333" stroke-width="1.6"/>
<line x1="521.62" y1="343" x2="521.62" y2="389" stroke="#555" stroke-width="0.7" stroke-dasharray="1.5,1.5"/>
<line x1="515.56" y1="343" x2="527.69" y2="343" stroke="#555" stroke-width="0.9"/>
<rect x="509.5" y="389" width="24.25" height="32.25" fill="#808080" stroke="#555" stroke-width="0.6"/>
<line x1="509.5" y1="400.75" x2="533.75" y2="400.75" stroke="#1a1a1a" stroke-width="1.2"/>
<line x1="509.5" y1="446.5" x2="533.75" y2="446.5" stroke="#333" stroke-width="1.6"/>
<line x1="491.5" y1="295.75" x2="522.5" y2="295.75" stroke="#777" stroke-width="1"/>
<line x1="491.5" y1="295.75" x2="491.5" y2="300.5" stroke="#777" stroke-width="1"/>
<line x1="522.5" y1="295.75" x2="522.5" y2="333.75" stroke="#777" stroke-width="1"/>
<circle cx="506.5" cy="295.75" r="1.6" fill="#f02222"/>
<text x="562.3" y="290.75" style="font-family:&quot;Liberation Sans&quot;,sans-serif" font-size="17.4" font-weight="normal" text-anchor="start" fill="#111" letter-spacing="0.5">(J)</text>
<rect x="591.25" y="290.5" width="96.25" height="162.75" fill="none" stroke="#7d7d7d" stroke-width="1.1"/>
<line x1="587.75" y1="446.75" x2="591.25" y2="446.75" stroke="#7d7d7d" stroke-width="0.9"/>
<text x="583.5" y="446.75" style="font-family:&quot;Liberation Sans&quot;,sans-serif" font-size="6" font-weight="normal" text-anchor="middle" fill="#111" transform="translate(583.5 446.35) rotate(-90) scale(0.82 1) translate(-583.5 -446.75)">0</text>
<line x1="587.75" y1="424.55" x2="591.25" y2="424.55" stroke="#7d7d7d" stroke-width="0.9"/>
<text x="583.5" y="424.55" style="font-family:&quot;Liberation Sans&quot;,sans-serif" font-size="6" font-weight="normal" text-anchor="middle" fill="#111" transform="translate(583.5 424.15) rotate(-90) scale(0.82 1) translate(-583.5 -424.55)">2</text>
<line x1="587.75" y1="402.35" x2="591.25" y2="402.35" stroke="#7d7d7d" stroke-width="0.9"/>
<text x="583.5" y="402.35" style="font-family:&quot;Liberation Sans&quot;,sans-serif" font-size="6" font-weight="normal" text-anchor="middle" fill="#111" transform="translate(583.5 401.95) rotate(-90) scale(0.82 1) translate(-583.5 -402.35)">4</text>
<line x1="587.75" y1="380.15" x2="591.25" y2="380.15" stroke="#7d7d7d" stroke-width="0.9"/>
<text x="583.5" y="380.15" style="font-family:&quot;Liberation Sans&quot;,sans-serif" font-size="6" font-weight="normal" text-anchor="middle" fill="#111" transform="translate(583.5 379.75) rotate(-90) scale(0.82 1) translate(-583.5 -380.15)">6</text>
<line x1="587.75" y1="357.95" x2="591.25" y2="357.95" stroke="#7d7d7d" stroke-width="0.9"/>
<text x="583.5" y="357.95" style="font-family:&quot;Liberation Sans&quot;,sans-serif" font-size="6" font-weight="normal" text-anchor="middle" fill="#111" transform="translate(583.5 357.55) rotate(-90) scale(0.82 1) translate(-583.5 -357.95)">8</text>
<line x1="587.75" y1="335.75" x2="591.25" y2="335.75" stroke="#7d7d7d" stroke-width="0.9"/>
<text x="583.5" y="335.75" style="font-family:&quot;Liberation Sans&quot;,sans-serif" font-size="6" font-weight="normal" text-anchor="middle" fill="#111" transform="translate(583.5 335.35) rotate(-90) scale(0.82 1) translate(-583.5 -335.75)">10</text>
<line x1="587.75" y1="313.55" x2="591.25" y2="313.55" stroke="#7d7d7d" stroke-width="0.9"/>
<text x="583.5" y="313.55" style="font-family:&quot;Liberation Sans&quot;,sans-serif" font-size="6" font-weight="normal" text-anchor="middle" fill="#111" transform="translate(583.5 313.15) rotate(-90) scale(0.82 1) translate(-583.5 -313.55)">12</text>
<line x1="639.5" y1="453.25" x2="639.5" y2="456.45" stroke="#7d7d7d" stroke-width="0.9"/>
<text x="639" y="465.01" style="font-family:&quot;Liberation Sans&quot;,sans-serif" font-size="5.42" font-weight="normal" text-anchor="middle" fill="#111">PAAD</text>
<text x="639.6" y="471.21" style="font-family:&quot;Liberation Sans&quot;,sans-serif" font-size="5.47" font-weight="normal" text-anchor="middle" fill="#111">(num(T)=179; num(N)=171)</text>
<text x="0" y="0" style="font-family:&quot;Liberation Serif&quot;,serif" font-size="11.4" font-weight="bold" text-anchor="middle" fill="#111" transform="translate(640 491.3) scale(1 1.12)">PNLIPRP1</text>
<line x1="624.5" y1="315" x2="624.5" y2="374.25" stroke="#555" stroke-width="0.7" stroke-dasharray="1.5,1.5"/>
<line x1="618.38" y1="315" x2="630.62" y2="315" stroke="#555" stroke-width="0.9"/>
<rect x="612.25" y="374.25" width="24.5" height="70.25" fill="#fc6464" stroke="#555" stroke-width="0.6"/>
<line x1="612.25" y1="420.25" x2="636.75" y2="420.25" stroke="#1a1a1a" stroke-width="1.2"/>
<line x1="612.25" y1="446.75" x2="636.75" y2="446.75" stroke="#808080" stroke-width="1.6"/>
<line x1="654.12" y1="303.75" x2="654.12" y2="315.75" stroke="#555" stroke-width="0.7" stroke-dasharray="1.5,1.5"/>
<line x1="648.06" y1="303.75" x2="660.19" y2="303.75" stroke="#555" stroke-width="0.9"/>
<line x1="654.12" y1="343" x2="654.12" y2="381.25" stroke="#555" stroke-width="0.7" stroke-dasharray="1.5,1.5"/>
<line x1="648.06" y1="381.25" x2="660.19" y2="381.25" stroke="#555" stroke-width="0.9"/>
<rect x="642" y="315.75" width="24.25" height="27.25" fill="#808080" stroke="#555" stroke-width="0.6"/>
<line x1="642" y1="324.25" x2="666.25" y2="324.25" stroke="#1a1a1a" stroke-width="1.2"/>
<line x1="642" y1="446.75" x2="666.25" y2="446.75" stroke="#333" stroke-width="1.6"/>
<line x1="623.75" y1="297" x2="654.5" y2="297" stroke="#777" stroke-width="1"/>
<line x1="623.75" y1="297" x2="623.75" y2="311" stroke="#777" stroke-width="1"/>
<line x1="654.5" y1="297" x2="654.5" y2="299.75" stroke="#777" stroke-width="1"/>
<circle cx="639.5" cy="297" r="1.6" fill="#f02222"/>
<path d="M101.77 67.36h0M101.26 77.83h0M103.14 74.15h0M104.05 58.86h0M103.58 58.2h0M101.38 59.24h0M106.09 70.58h0M102.23 60.96h0M106.87 77.08h0M103.34 75.47h0M101.1 88.24h0M102.65 84.47h0M101.55 61.62h0M106.02 66.87h0M104.52 62.78h0M103.18 77.45h0M101.2 74.53h0M102.12 58.91h0M103.54 78.77h0M104.55 67.05h0M102.72 71.5h0M105.27 82.42h0M104.48 64.81h0M106.4 73.81h0M102.64 80.34h0M101.56 88.37h0M105.65 70.38h0M103.93 61.86h0M105.08 91.27h0M104.47 133.35h0M102.81 139.78h0M104.6 129.33h0M103.72 122.63h0M106.85 137.72h0M105.05 116.5h0M105.29 92.52h0M107.16 126.53h0M102.62 136.67h0M105.08 111.38h0M103.75 90.31h0M101.55 98.75h0M105.72 92.42h0M102.38 96.5h0M106.38 111.68h0M103.67 93.67h0M106.45 120.87h0M106.33 136.52h0M103.46 105.15h0M106.46 109.81h0M101.77 144.55h0M102.28 99.22h0M103.9 102.53h0M102.48 123.17h0M103.48 89.24h0M104.42 110.42h0M105.22 144.28h0M104.75 118.9h0M101.15 128.22h0M105.79 141.17h0M105.91 139.72h0M103.35 111.76h0M104.86 95.01h0M101.23 92.61h0M101.84 101.11h0M101.14 108.72h0M101.77 89.01h0M103.13 94.88h0M106.4 90.48h0M101.75 124.62h0M103.02 103.63h0M101.59 110.12h0M107.16 138.24h0M103.9 116.03h0M101.45 93.98h0M102.49 108.87h0M101.83 137.07h0M106.89 90.34h0M101.74 119.64h0M100.97 120.5h0M107.06 119.63h0M105.26 139.07h0M103.15 104.14h0M105.74 98.69h0M105.79 119.89h0M102.23 108.12h0M107.1 136.07h0M105.96 138.45h0M105.54 136.46h0M104.11 102.15h0M100.99 109.62h0M102.59 90.62h0M105.23 104.03h0M103.66 144.48h0M107.12 143.35h0M103.13 144.39h0M102.25 101.79h0M102.11 100.41h0M106.56 125.2h0M103.87 137.75h0M105.92 126.87h0M105.03 93.92h0M105.81 141.77h0M103.86 132.51h0M105.85 99.35h0M105.93 108.29h0M103.33 145.36h0M106.86 112.28h0M101.89 131.04h0M101.77 153.61h0M105.96 194.05h0M106.09 154.6h0M105.01 197.98h0M104.31 165.22h0M100.89 153.81h0M104.96 197.49h0M106.78 174.38h0M106.38 169.56h0M102.15 189.96h0M102.67 160.1h0M104.55 159.51h0M103.48 160.49h0M106.62 153.82h0M103.73 165.4h0M106.59 177.33h0M106.67 168.87h0M104.2 173.09h0M100.92 174.22h0M101.97 169.89h0M105.91 147.2h0M103.83 155.96h0M104.36 184.71h0M104.12 163.95h0M105.82 175.88h0M104.39 152.52h0M102.57 159.92h0M104.05 187.16h0M105.66 176.21h0M103.64 194.45h0M104.04 178.85h0M105.23 173.63h0M104.21 170.52h0M106.83 171.86h0M106.41 201.1h0M102.46 201.83h0M106.84 200.68h0M101.68 201.52h0M103.63 199.36h0M102.34 199.22h0M105.08 199.22h0M106.54 201.35h0M105.38 199.46h0M101.72 200.98h0M106.99 201.65h0M106.9 199.66h0M103.92 200.19h0M106.13 201.97h0M133.69 199.65h0M133.1 201.06h0M132.96 199.78h0M131.05 201.89h0M133.74 201.22h0M133.05 199.07h0M134.2 201.5h0M137.23 199.26h0M137.14 202.15h0M132.62 199.42h0M135.91 199.16h0M131.75 200.08h0M136.76 200.69h0M132.58 202.28h0M136.81 199.6h0M135.41 201.28h0M131.29 199.36h0M133.65 201.75h0M136.93 199.29h0M136.06 201.54h0M136.4 199.33h0M136.45 199.27h0M133.1 200.82h0M136.86 201.21h0M131.75 200.07h0M132.45 201.11h0M131.96 199.44h0M132.22 199.2h0M132.88 200.25h0M132.78 202.04h0M132.06 201h0M131.04 200.39h0M131.02 200h0M134.45 201.93h0M133.96 199.76h0M131.61 202.74h0M133.69 202.28h0M136.27 200.98h0M134.17 200.57h0M137.21 201.75h0M136.25 200.37h0M135 201.83h0M133.15 200.62h0M131.76 199.22h0M135.67 199.28h0M131.97 200.02h0M136.31 199.34h0M135.22 202.48h0M132.48 200.13h0M133.87 200.17h0M133.78 199.63h0M137.08 200.05h0M134.43 202.89h0M137.11 199.98h0M133.21 200.24h0M133.37 199h0M134.14 200.9h0M134.16 199.8h0M132.62 199.02h0M133.48 199.36h0M131.07 180.75h0M132.41 185.48h0M134.31 190.54h0M135.13 193.51h0M136.55 192.89h0M133.01 187.01h0M136.06 97.5h0M132.72 158h0M135.02 181h0M134.7 190h0M132.3 192.5h0M236.26 84.56h0M235.25 77.7h0M231.44 83.8h0M233.78 74.28h0M235.7 84.55h0M234.29 84.27h0M234.92 86.46h0M232.02 79.88h0M231.4 58.03h0M231.22 68.9h0M234.12 84.58h0M234.56 77.72h0M233.68 104.8h0M235.66 90.07h0M233.77 106.27h0M234.77 101.64h0M235.27 91.44h0M231.03 95.49h0M235.22 95.78h0M235.28 94.46h0M233.71 111.22h0M233.62 98.32h0M235.46 104.87h0M234.66 103.42h0M231.49 91.69h0M235.31 95.52h0M234.18 96.62h0M230.94 90.27h0M234.85 95.85h0M234.87 105.06h0M233.86 96.33h0M233.53 100.11h0M236.27 92.58h0M236.81 94.33h0M230.66 110.36h0M235.8 99.98h0M233.43 111.06h0M231.89 125.05h0M231.9 158.56h0M231.46 140.53h0M236.65 137.69h0M235.8 118.31h0M236.23 136.93h0M232.03 146.57h0M233.66 156.19h0M230.57 112.98h0M233.43 136.09h0M231.45 126.7h0M232.57 128.78h0M230.56 153.34h0M235.92 148.91h0M236.48 117.69h0M236.32 147.04h0M232.93 126.1h0M236.94 131.2h0M232.86 140.91h0M232.31 132.94h0M231.2 114.14h0M232.38 153.07h0M232.15 158.06h0M233.82 124.9h0M232.94 121.15h0M236.21 159.08h0M234.59 151.94h0M236.57 156.96h0M235.16 138.94h0M235.24 114.2h0M235.37 134.07h0M232.38 143.65h0M236.48 114.17h0M233.57 118.05h0M232.46 128.76h0M236.8 148.33h0M234.75 124.63h0M234.12 126.64h0M231.62 131.27h0M231.88 119.75h0M233.73 156.6h0M236.35 122.64h0M233.43 161.08h0M231.78 118.66h0M232.74 116.24h0M232.08 116.26h0M234.2 124.54h0M235.35 155.67h0M233.2 132.18h0M232.96 137.7h0M230.95 128.49h0M236.74 125.49h0M233.77 117.98h0M236.07 142.92h0M232.28 122.44h0M233.11 124.05h0M236.66 133.82h0M236.14 153.76h0M230.76 112.83h0M236.28 146.87h0M234.31 135.18h0M233.06 111.76h0M235.83 157.63h0M236.77 154.1h0M231.25 124.05h0M233.89 167.08h0M236.58 187h0M234.69 188.5h0M233.48 190.12h0M230.8 182.07h0M232.04 190.78h0M234.68 195.98h0M231.37 172.72h0M234.62 170.76h0M231.27 187.62h0M233.91 163.91h0M233.03 183.25h0M234.4 169.69h0M232.48 161.64h0M236.69 178.64h0M236.21 185.58h0M232.05 179.19h0M236.7 170.58h0M232.52 187.85h0M233.74 162.07h0M233.24 186.71h0M234.82 170.96h0M232 196.17h0M232.71 162.54h0M234.92 177.13h0M235.65 168.73h0M233.78 189.15h0M236.76 169h0M235.8 173.02h0M231.97 169.96h0M232.44 201.28h0M233.72 201.86h0M231.98 199.56h0M234.81 200.25h0M231.49 201.85h0M231.91 200.18h0M231.46 201.92h0M230.93 199.16h0M236.3 200.18h0M235.24 201.65h0M266.14 202.99h0M261.36 200.32h0M264.95 202.74h0M264.43 199.13h0M262.57 200.51h0M261.26 200.33h0M261.97 199.01h0M266.29 200.41h0M266.35 199.49h0M262.46 199.83h0M265.44 202.29h0M260.49 200.73h0M262.56 200.89h0M261.41 202.68h0M265.92 200.46h0M262.8 199.12h0M265.08 202.25h0M260.4 199.16h0M266.06 199.25h0M264.96 200.03h0M262.35 202.59h0M266.3 200.09h0M261.85 201.47h0M262.2 201.87h0M260.2 200.1h0M266.04 202.02h0M266.21 201.54h0M261.67 199.1h0M266.3 200.9h0M262.65 202.82h0M262.93 200h0M266.11 200.97h0M265.31 199.73h0M265.44 201.95h0M264.06 202.09h0M262.22 192.95h0M265.18 193.26h0M261.44 190.71h0M261.76 196.78h0M260.39 190.58h0M262.26 194.97h0M265.83 198.82h0M261.87 198.89h0M261.71 125h0M261.76 168h0M263.37 178h0M264.21 184h0M355.8 65.6h0M358.27 65.09h0M359.09 69.46h0M358.55 72.4h0M359.68 60.06h0M357.93 62.99h0M359.02 64.34h0M355.88 61.39h0M355.28 62.17h0M358 73.03h0M356.83 81.12h0M357.55 93.61h0M359.47 79.34h0M360.64 87.25h0M357.34 76.92h0M359.68 90.36h0M354.56 92.14h0M355.06 80.51h0M360.53 78.55h0M360.25 85.93h0M359.84 81.98h0M355.96 83.42h0M360.35 89.58h0M358.12 76.98h0M355.69 86.62h0M355.2 81.91h0M355.93 78.82h0M358.47 86.24h0M354.37 78.81h0M358.64 81.14h0M356.3 78.47h0M359.39 78.81h0M354.7 107.45h0M356.83 96.28h0M358.39 107.5h0M355.35 96.03h0M356.92 111.14h0M356.27 100.83h0M356.3 117.58h0M356.59 107.91h0M359.83 104.16h0M356.63 118.67h0M358.96 98.68h0M354.34 98.84h0M357.01 116.29h0M356.9 114.26h0M357.25 115.82h0M354.39 97.81h0M358.4 107.54h0M354.87 116.49h0M356.67 109.3h0M355.23 106.36h0M357.64 100.83h0M355 116.89h0M359.45 106.01h0M355.56 117.92h0M360.34 96.92h0M357.39 118.14h0M360.23 95.08h0M360.09 103.45h0M359.58 109.26h0M359.33 97.76h0M356.89 99.3h0M359.61 114.91h0M355.7 98.32h0M357.61 103.74h0M355.09 103.34h0M358.94 99.93h0M354.56 116.18h0M359.15 107.81h0M359.66 94.7h0M358.14 96.69h0M358.31 107.5h0M356.99 101.41h0M357.02 108.32h0M357.16 110.22h0M354.45 104.71h0M357.43 109.22h0M359.19 99.63h0M357.23 113.25h0M357.33 98.24h0M355.12 96.43h0M354.89 104.51h0M357.57 104.8h0M358.37 94.77h0M358.99 95.81h0M357.57 113.19h0M357.53 95.11h0M360.39 103.2h0M359.79 97.15h0M358.99 118.65h0M355.54 114.12h0M357.45 118.29h0M360.16 117.67h0M359.35 97.88h0M354.72 117.01h0M359.14 102.52h0M360.04 97.72h0M359.52 100.62h0M357.51 97.34h0M355.63 116.75h0M357.54 100.32h0M354.54 101.73h0M355.33 98.3h0M358.65 117.16h0M355.38 116.14h0M355.04 113.37h0M358.37 107.02h0M359.89 102.74h0M358.01 107.63h0M354.97 115.81h0M358.33 118.57h0M359.41 103.61h0M360.64 100.37h0M356.61 108.18h0M357.13 112.87h0M359.06 98.17h0M359.55 94.96h0M358.39 100.09h0M358.05 118.35h0M356.3 110.34h0M354.52 93.79h0M358.24 121.18h0M357.58 125.77h0M355.14 133.3h0M358.48 122.44h0M354.32 119.11h0M354.98 124.52h0M355.74 124.55h0M358.07 128.23h0M358.29 122.07h0M355.16 126.47h0M355.86 133.97h0M354.91 121.18h0M359.88 129.12h0M356.87 131.46h0M354.37 140.28h0M357.9 147.9h0M358.43 142.01h0M360.3 143.88h0M355.89 149.67h0M354.58 153.07h0M356.9 181.58h0M354.67 166.88h0M354.38 193.94h0M360.32 182.55h0M355.58 162.11h0M357.54 185.4h0M359.51 187.08h0M356.28 163.73h0M385.11 174.5h0M389.81 183.34h0M384.84 180.73h0M389.57 182.67h0M389.55 176.98h0M386.25 176.79h0M386.29 171.58h0M386.95 170.58h0M389.25 181.24h0M389.35 182.68h0M388.34 173.99h0M389.85 176.54h0M386.5 177.85h0M390.98 179.63h0M390.43 173.25h0M386.47 170.23h0M389.56 173.54h0M389.58 184.17h0M390.43 174.9h0M386.33 174.93h0M388.84 183.61h0M389.06 180.39h0M387.8 184.69h0M389.26 182.6h0M387.6 182.86h0M388.45 180.87h0M386.16 174.62h0M385.3 179.34h0M385.73 183.66h0M385.48 170.4h0M387.01 196.61h0M384.98 186.77h0M389.23 185.52h0M389.26 192.92h0M385.22 194.21h0M387.13 192.38h0M390.05 195.22h0M385.22 196.14h0M390.65 195.85h0M385.49 196.8h0M385.52 187.57h0M390.23 185.43h0M388.86 195.15h0M388.84 195.31h0M385.44 188.59h0M389.65 186.22h0M386.84 187.56h0M384.93 190.3h0M386.61 188.21h0M387.16 193.95h0M390.97 189.01h0M390.25 191.3h0M385 192.73h0M387.59 190.16h0M387.02 194.66h0M388.24 193.81h0M390.32 187.71h0M390.05 186.14h0M384.81 187.13h0M389.68 187.53h0M384.83 197.22h0M387.95 191.14h0M385.98 194.96h0M387.02 191.18h0M386.47 195.4h0M386.62 196.8h0M389.28 187.68h0M385.5 191.23h0M385.32 192.96h0M389.26 194.85h0M388.82 194.84h0M387.37 189.45h0M390.5 189.93h0M390.49 186.08h0M386.12 185.31h0M390.57 188.29h0M387.23 191.26h0M386.29 196.05h0M388.2 190.76h0M389.62 194.43h0M387.03 193.08h0M385.79 189.08h0M389.04 195.54h0M385.89 194.27h0M389.75 190.48h0M385.61 192.24h0M390.46 190.78h0M386.03 187.97h0M389.3 188.77h0M385.79 195.55h0M386.38 186.95h0M388.14 189.08h0M386.9 187.01h0M391.04 187.37h0M385.45 194.11h0M385.45 197.03h0M391.1 189.8h0M389.49 194.94h0M386.06 190.44h0M385.48 192.97h0M387.29 199.05h0M387.35 197.75h0M389.24 203.43h0M388.85 201.25h0M385.71 200.97h0M387.39 202.03h0M390.61 203.06h0M388.47 200.73h0M387.5 203.12h0M389.42 199.21h0M389.75 204.1h0M390.26 202.75h0M388.91 202.6h0M386.8 200.9h0M385.43 202.21h0M389.81 200.65h0M388.83 202.85h0M387.51 199.38h0M388.78 200.91h0M389.12 200.57h0M385.97 204.48h0M389.78 202.41h0M387.93 200.42h0M385.04 204.81h0M385.83 201.58h0M390.82 203.36h0M385.45 201.39h0M388.26 201.81h0M388.08 202.88h0M390.11 202.29h0M387.43 201.41h0M386.14 204.61h0M387.31 202.63h0M385.58 203.22h0M387.08 204.88h0M386.56 197.92h0M384.89 200.5h0M387.49 200.64h0M387.05 202.74h0M386.24 199.49h0M388.97 107.5h0M389.76 114h0M388.11 155h0M386.88 158h0M389.21 162h0M488.41 64.36h0M492.02 59.76h0M491.11 71.67h0M490.65 65.71h0M493.22 61.45h0M491.14 63.68h0M492.27 98.95h0M488.93 88.69h0M487.85 91.04h0M489.32 99.39h0M488.76 99.88h0M488.67 86h0M488.24 87.46h0M491.67 75.08h0M488.62 83.23h0M490.12 83.83h0M491.13 87.53h0M489.37 94.28h0M492.52 102.17h0M492.35 76.67h0M492.07 101.49h0M492.37 79.11h0M487.15 93.52h0M493.14 75.34h0M488.65 94.19h0M487.96 77.97h0M492.02 81.83h0M488.03 85.13h0M492.12 101.44h0M492.75 79.91h0M492.05 92.79h0M492.77 94.55h0M492.42 98.05h0M491.48 80.77h0M491.8 90.53h0M492.7 87.83h0M488.74 91.24h0M487.94 81.85h0M487.42 89.42h0M487.97 88.66h0M490.24 89.37h0M492.57 129.2h0M492.43 104.56h0M490.65 125.89h0M492.43 135.02h0M489.73 121.59h0M487.53 148.68h0M491.12 133.71h0M490.95 105.57h0M493.01 135.82h0M493.33 119.53h0M490.15 127.87h0M487.27 145.76h0M491.05 137.47h0M492.56 119.91h0M490.09 121.18h0M491.98 128.56h0M489.84 114h0M490.6 123.79h0M488.92 142.49h0M489.63 142.53h0M488.79 127.55h0M493.29 127.67h0M492.12 134.52h0M489.08 119.55h0M490.8 118.09h0M492.07 133.61h0M491.68 106.1h0M490.54 145.21h0M488.97 106.55h0M488.27 104.54h0M490.95 146.87h0M492.1 134.68h0M490.97 146.33h0M491.06 132.77h0M490.87 136.46h0M488.41 135.75h0M489.98 135.1h0M487.7 139.52h0M487.29 112.64h0M492.9 140.07h0M489.41 134.58h0M492.08 142.3h0M488.7 130.25h0M489.75 118.22h0M489.81 118.98h0M493.03 133.93h0M490.68 106.78h0M487.81 106.07h0M490.73 141.73h0M489.91 146.74h0M489.53 104.9h0M493.05 131.63h0M490.09 149.61h0M487.7 123.32h0M488.41 134.06h0M487.15 111.27h0M491.43 104.47h0M493.23 109.88h0M492.62 108.33h0M487.16 110.21h0M488.6 137.52h0M488.25 138.18h0M492 106.57h0M492.53 137.25h0M487.59 138h0M491.59 133.32h0M493.02 125.55h0M493.22 116h0M487.12 137.42h0M491.21 104.93h0M487.56 142.05h0M491.72 118.64h0M492.56 111.93h0M487.43 126.74h0M490.73 121.25h0M491.38 124.54h0M492.15 110.95h0M491.18 121.05h0M489.72 133.37h0M492.08 122.09h0M492.07 147.95h0M488.92 130.47h0M493.28 107.05h0M492.35 136.78h0M490.93 119.61h0M492.37 177.38h0M489.03 167.03h0M492.73 162.29h0M491.43 160.86h0M492.79 167.05h0M488.86 172.71h0M488.73 150.55h0M490.8 162.12h0M492.73 172.94h0M492.38 151.66h0M492.6 172.82h0M488.8 166.23h0M492.22 173.91h0M492.9 169.33h0M487.59 160.04h0M492.15 165.73h0M491.85 156.01h0M488.55 176.12h0M491.39 167.19h0M488.37 163.3h0M491.86 157.51h0M489.99 172.27h0M492.21 152.91h0M488.54 171.73h0M492.79 166.44h0M490.39 174.84h0M490.82 163.61h0M488.28 155.7h0M491.54 155.47h0M490.66 160.48h0M490.36 188.06h0M487.34 181.73h0M489.44 202.93h0M491.1 180.65h0M488.05 197.68h0M489.26 192.93h0M487.18 190.99h0M493.39 178.84h0M490.16 199.65h0M488.72 192.18h0M489.78 197.48h0M491.96 201.66h0M522.47 204.91h0M516.54 201.52h0M517.46 201.21h0M516.63 200.5h0M521.87 203.34h0M522.36 202.75h0M516.71 205.46h0M518.84 203.59h0M522.44 200.72h0M519.91 201.54h0M522.42 203.84h0M518.82 204.02h0M517.32 202.69h0M522.65 205.79h0M516.55 201.33h0M518.55 201.54h0M522.09 205.42h0M516.6 205.02h0M520.84 204.72h0M522.61 203.88h0M517.23 200.33h0M522.31 204.53h0M518.21 204.06h0M521.15 203.55h0M518.37 200.63h0M517.09 201.54h0M517.38 202.89h0M517.22 201.43h0M516.38 204.07h0M517.55 204.3h0M522.24 200.22h0M522.28 201.32h0M521.99 205.2h0M519.16 200.84h0M522.24 200.58h0M520.32 205.05h0M518.47 202.71h0M519.36 204.94h0M517.21 203.77h0M516.66 201.33h0M519.84 204.28h0M521.87 200.87h0M518.94 201.6h0M518.04 200.93h0M518.44 205.04h0M519.44 201.01h0M522.08 201.91h0M522.56 200.69h0M522.03 200.34h0M517.65 204.01h0M518.13 192.16h0M517.59 188.87h0M522.64 190.46h0M522.22 199.97h0M518.15 186.46h0M516.67 198.44h0M518.18 195.9h0M516.4 199.68h0M520.73 137h0M518.86 183h0M518.06 188h0M621 57.54h0M616.86 68.3h0M621.51 66.42h0M619.33 61.97h0M616.83 60.33h0M620.23 73.29h0M616.18 61.53h0M619.57 59.29h0M617.43 67.66h0M619.59 61.72h0M620.87 72.01h0M616.97 69.45h0M620.36 58.85h0M620.29 65.87h0M620.86 58.64h0M621.06 64.37h0M618.83 75.22h0M621.5 57.82h0M621.26 67.27h0M616.87 62.96h0M618.02 74.55h0M618.05 60.85h0M615.7 69.7h0M618.53 68.16h0M616.45 68.07h0M620.9 72.15h0M617.73 75.24h0M618.12 72.08h0M616.07 72.9h0M621.78 75.39h0M618.96 90.74h0M619.11 91.66h0M621.87 78.53h0M616.84 83.76h0M617.28 80.64h0M615.87 99.04h0M620.15 80.48h0M615.79 83.02h0M619.36 93.43h0M620.17 91.46h0M621.24 80.65h0M615.96 96.47h0M618.83 81.17h0M617.46 90.89h0M618.27 81.14h0M619.46 81.53h0M616.62 100.17h0M620.45 92.75h0M620.96 82.23h0M618.16 102.14h0M621.05 88.83h0M618.21 91.53h0M620.65 102.24h0M617.21 86.72h0M618.46 86.63h0M620.82 103.27h0M620.89 101.5h0M616.02 99.83h0M621.81 91.32h0M617.27 102.06h0M619.72 88.87h0M619.07 87.38h0M618.45 79.78h0M615.81 91h0M621.88 81.59h0M621.67 98h0M620.85 94.31h0M621.34 100.77h0M619.78 78.89h0M620.02 84.84h0M619.15 85.04h0M619.65 101.8h0M619 84.45h0M621.76 89.17h0M617.63 85.4h0M616.45 94.67h0M621.79 93.3h0M617.39 91.23h0M619.09 90.01h0M616.47 81.82h0M617.55 81.38h0M617.52 88.47h0M616.24 84.27h0M621.05 92.07h0M619.32 93.71h0M616.96 94.75h0M618.62 96.29h0M619.6 92.11h0M617.66 90.08h0M617.09 84.24h0M618.13 91.2h0M615.75 93.08h0M621.19 87.08h0M619.24 84.14h0M617.5 90.65h0M617.57 103.43h0M616.69 97.88h0M621.25 79.72h0M616.07 89.33h0M618.49 87.99h0M616.37 96.94h0M621.81 83.8h0M616.66 97.02h0M617.93 86.68h0M619.62 95.39h0M620.93 99.89h0M620.4 91.33h0M620.54 97.14h0M620.7 90.24h0M621.53 96.25h0M621.25 108.43h0M620.58 103.91h0M618.86 125.28h0M619.34 139.13h0M620.69 119.11h0M619.56 135.82h0M618.57 117.7h0M620.3 120.58h0M618.18 114.51h0M618.14 124.16h0M620.71 115.58h0M618.87 134.97h0M616.85 120.07h0M616.6 114.92h0M619.4 124.9h0M621.56 106.98h0M621.07 115.65h0M621.81 134.55h0M618.4 111.26h0M615.74 137.21h0M619.29 105.49h0M621.56 122.03h0M619.12 132.18h0M618.99 140.44h0M620.06 122.76h0M617.96 118.06h0M617.92 125.61h0M620 138.59h0M616.31 123.05h0M618.24 117.51h0M619.35 124.38h0M621.85 136.08h0M618.49 121.64h0M622.05 126.7h0M619.07 116.37h0M620.14 150h0M617.56 153.5h0M618.15 162h0M620.79 171.6h0M620.18 181.5h0M618.93 193h0M652.02 161.57h0M651.55 169.83h0M651.98 174.11h0M647.3 166h0M649.57 164.13h0M647.5 167.19h0M650.33 162.6h0M648.56 168.59h0M650.37 174.16h0M648.93 160.6h0M648.26 171.22h0M646.33 169.84h0M651.69 164.34h0M650.58 168.35h0M649.49 162.8h0M648 167.88h0M649.7 169.22h0M649.98 174.21h0M647.08 165.86h0M651.16 162.23h0M646.94 161.52h0M649.64 162.43h0M650.22 171.73h0M646.7 171.49h0M651.23 160.18h0M650.88 177.96h0M647.38 178.32h0M646.94 177.32h0M650.03 184.64h0M649.18 178.26h0M646.65 178.69h0M650.03 184.49h0M649.11 185.29h0M647.9 181.38h0M652.26 174.76h0M648.31 184.08h0M651.52 184.59h0M650.16 177.74h0M649.47 185.29h0M647.85 185.17h0M650.9 178.73h0M648.28 176.8h0M649.4 184.32h0M647.86 183.37h0M648.59 176.24h0M652.52 176.4h0M649.89 177.59h0M649.72 175.57h0M648.88 178.68h0M647.09 175h0M648.55 183.75h0M647.52 177.07h0M647.82 177.51h0M650.55 174.65h0M647.3 178.18h0M646.89 182.37h0M651.64 177.35h0M649.14 175.72h0M651.45 183.87h0M648.56 176.08h0M648.71 182.56h0M647.63 185.27h0M649.53 185.19h0M649.2 176.86h0M650.82 175.76h0M652.06 177.25h0M648.66 181.01h0M650.19 177.08h0M651.88 176.69h0M649.58 175.66h0M648.03 180.49h0M648.76 183.13h0M649.93 181.81h0M648.8 177.82h0M647.43 175.24h0M648.35 184.04h0M647 181.87h0M648.61 180.71h0M648.2 180h0M648.29 175.01h0M647.11 176.85h0M648.11 182.49h0M652.12 178.89h0M651.95 183.16h0M647.15 184.15h0M646.49 190.04h0M650.55 196.28h0M648.94 191.2h0M650.78 195.97h0M651.72 189.6h0M650.32 191.21h0M647.04 188.57h0M651 199.9h0M646.56 196.8h0M647.34 186.37h0M648.24 188.82h0M646.55 191.65h0M650.39 190.57h0M651.67 188.53h0M650.89 194.59h0M649.08 189.7h0M648.53 196.36h0M651.64 185.77h0M648.13 197.79h0M651.77 186.42h0M646.6 195.16h0M647.01 189.54h0M647.64 198.02h0M651.1 199.92h0M650.75 187.09h0M651.08 191.85h0M648.1 198.6h0M652.36 187.14h0M652.25 192.32h0M651.03 196.47h0M650.32 198.61h0M646.65 192.77h0M649.04 196.57h0M652.24 193.68h0M651.18 187.73h0M647.67 104h0M650.31 122h0M650.72 130.5h0M648.54 143.7h0M649.69 150h0M106.51 372.24h0M104.02 351.17h0M104.72 327.19h0M103.71 344.63h0M103.3 339.62h0M106.72 359.25h0M103.97 336.02h0M105.27 349.76h0M104.67 370.57h0M108.09 339.07h0M106.03 331.27h0M107.64 340.76h0M107.29 351.39h0M106.69 332.63h0M105.38 353.88h0M107.74 362.17h0M104.28 329.92h0M103.75 342.09h0M104.22 327.24h0M106.92 334.01h0M103.15 346.43h0M105.42 340.31h0M103.5 342.22h0M102.49 327.81h0M107.23 373.36h0M107.01 328.41h0M106.03 372.77h0M105.55 329.64h0M103.64 345.74h0M102.48 351.13h0M106.55 425.48h0M108.41 409.06h0M104.03 410.46h0M103.31 387.59h0M107.38 375.31h0M104.32 420.98h0M106.51 384.2h0M108.36 421.32h0M107.45 383.23h0M107.18 420.46h0M103.61 392.13h0M104.47 420.17h0M105.95 394.48h0M107.75 394.52h0M102.69 387.22h0M106.45 405.64h0M106.94 419.86h0M108.47 424.67h0M105.62 401.56h0M104.34 382.61h0M102.94 406.44h0M103.47 412.45h0M108.63 398.68h0M102.68 378.79h0M103.65 398.47h0M102.44 414.42h0M107.9 421.05h0M105.15 418.01h0M106.66 389.68h0M105.12 402.7h0M105.23 392.8h0M107.71 411.22h0M103.48 424.6h0M105.26 390.39h0M104.65 405.44h0M102.97 384.74h0M105.37 391.96h0M108.24 428.39h0M108.66 422.43h0M106.39 427.85h0M102.81 419.38h0M106.32 411.8h0M106.08 390.46h0M105.5 427.35h0M104.34 410.16h0M108.09 434.46h0M103.63 430.36h0M105.29 438.82h0M106.65 431.11h0M106.14 434.84h0M105.82 435.41h0M104.96 437.34h0M103.58 431.49h0M105.93 441.57h0M107.94 431.46h0M103.03 433.3h0M104.03 436.9h0M105.97 436.36h0M106.09 432.95h0M105.71 431.47h0M102.94 437.65h0M102.9 435.3h0M107.95 435.71h0M107 437.16h0M103.16 439.84h0M107.04 442.88h0M107.74 431.33h0M103.52 435.1h0M106.03 442.48h0M103.3 440.07h0M102.79 440.09h0M104.81 433.08h0M106.23 430.2h0M104.34 432.77h0M105.15 439.2h0M106.4 441.55h0M106.03 441.34h0M108 441.93h0M107.2 432.18h0M107.31 434.44h0M107.71 438.85h0M104.81 431.6h0M108.49 439.58h0M102.7 439.38h0M103.06 437.85h0M136.94 307.18h0M137.72 304.46h0M133.43 307.97h0M134.66 304.96h0M135.52 308.99h0M131.93 304.46h0M136.92 304.44h0M135.35 304.91h0M136.2 305.56h0M132.72 306.13h0M135.25 309.22h0M136.97 308.06h0M131.89 309.68h0M132.77 305.89h0M137.39 306.89h0M132.03 308.75h0M137.04 304.89h0M134.31 308h0M132.81 306.72h0M134.32 309.03h0M135.71 318.08h0M133.91 310.7h0M137.52 312h0M132.08 315.45h0M134.11 311.57h0M135.49 314.33h0M134.06 313.59h0M135.51 310.06h0M131.93 313.09h0M138.11 314.25h0M132.73 310.42h0M133.55 316.21h0M135 312.53h0M135.44 312.42h0M137.92 314.89h0M132.02 319.18h0M136.73 315.19h0M136.76 318.07h0M135.86 315.86h0M133.6 313.36h0M137.39 317.36h0M136.16 318.68h0M136.69 312.81h0M135.06 316.84h0M134.04 315.88h0M134.4 315.09h0M133.96 310.56h0M138.13 312.99h0M134.15 314.45h0M133.3 312.25h0M132.67 313.23h0M137.37 310.07h0M134.65 314.19h0M133.74 315.26h0M132.22 311.56h0M133.77 312.79h0M135.33 316.72h0M133.98 318.67h0M135.53 318.52h0M132.94 310.74h0M138.12 315.37h0M136.76 313.3h0M137.36 313.96h0M134.9 310.63h0M133.57 318.32h0M131.95 312.38h0M133.52 311.52h0M133.2 316.52h0M133.08 313.7h0M137.33 315.58h0M133.06 315.99h0M137.96 316.79h0M132.31 315.56h0M137.4 317.49h0M132.67 313.16h0M135.24 321.51h0M135.9 329.76h0M133.16 330.32h0M136.6 323.17h0M134.39 327.04h0M133.96 327.4h0M134.45 319.94h0M135.81 319.8h0M134.96 323.26h0M133.44 326.42h0M131.89 324.81h0M135.41 330.35h0M132.16 331.1h0M136.43 326.62h0M132.4 323.2h0M132.71 321.12h0M132.38 328.46h0M134.51 329.02h0M135.57 325.71h0M136.01 325.91h0M135.41 348.5h0M134.32 360.7h0M135.96 368.3h0M134.03 382.8h0M135.85 398.6h0M235.89 355.78h0M235.87 333.31h0M233.83 366.38h0M234.27 331.77h0M231.77 364.58h0M233.97 318.45h0M235.88 350.44h0M237.26 335.94h0M235.77 329.29h0M231.1 322.45h0M231.31 324.64h0M234.48 342.84h0M236.94 327h0M231.88 336.1h0M235.65 326.78h0M231.96 363.61h0M235.9 319.44h0M237.21 330.01h0M235 342.7h0M236.05 335.04h0M233 340.77h0M231.61 362.72h0M231.34 354.3h0M233.5 349.95h0M231.31 360.77h0M233.55 345.93h0M236.97 363.5h0M232.36 349.04h0M232.6 330.47h0M232.41 339.47h0M235.78 380.71h0M232.84 409.28h0M232.31 432.13h0M231.93 404.52h0M236.49 423.6h0M235.73 384.87h0M232.73 420.98h0M234.03 389.05h0M231.96 425.41h0M234.75 411.88h0M234.63 396.95h0M232.27 424.89h0M233.23 424.93h0M236.45 418.19h0M236.45 379.35h0M232.83 432.16h0M231.64 369.09h0M230.99 430.83h0M231.89 426.75h0M231.55 415.34h0M235.29 378.47h0M233.1 373.37h0M235.51 427.2h0M237.19 424.83h0M232.43 369.64h0M235.34 418.99h0M234.16 369.96h0M233.68 382.56h0M231.05 374.32h0M232.95 431.9h0M231.7 424.61h0M231.79 399.18h0M232.07 395.35h0M231.87 412.05h0M234.13 415.48h0M233.19 374.8h0M236.8 399.76h0M232.3 390.21h0M236.58 430.39h0M232.67 415.04h0M232.62 379.02h0M231.2 371.98h0M233.54 400.57h0M233.25 403.68h0M235.33 368.19h0M234.41 439.36h0M235.34 438.26h0M236.52 442.81h0M233.48 440.04h0M233.61 435.84h0M233.4 442.72h0M233.55 436.55h0M237.31 434h0M234.82 432.56h0M232.55 442.23h0M233.34 438.91h0M232.19 435.03h0M236.32 433.72h0M236.74 440.73h0M235.37 433.02h0M235.06 435.91h0M232.94 438.26h0M230.93 442.7h0M236.39 440.34h0M234.72 437.86h0M232.43 442.94h0M235.68 439.11h0M235.48 436.48h0M234.29 436.63h0M235.26 438.93h0M263.57 306.43h0M260.98 307.76h0M261.25 308.18h0M262.58 309.95h0M262.89 308.83h0M260.97 307.36h0M265.48 305.35h0M262.9 307.67h0M264.76 307.66h0M260.65 305.93h0M262.5 309.43h0M264.85 308.34h0M265.1 309.86h0M261.99 304.76h0M264.78 309.49h0M260.53 305.24h0M260.21 306.01h0M264.69 306.64h0M262.45 307.63h0M262.08 305.03h0M264 317.98h0M262.61 313.87h0M264.41 316.49h0M263.9 311.62h0M262.88 313.25h0M261.92 312.28h0M261.99 313.05h0M260.84 310.63h0M259.92 314.78h0M264.15 311.84h0M261.62 312.56h0M264.89 312.31h0M263.62 311.18h0M260.84 316.94h0M264.62 313.67h0M261.93 315.13h0M262.38 310.83h0M264.11 313.25h0M262.16 312.71h0M264.74 315.36h0M262.02 313.14h0M265.47 314.84h0M265.77 311.94h0M261.93 315.84h0M261.66 315.49h0M264.39 311.03h0M262.92 313.35h0M265.32 314.22h0M259.71 316.18h0M262.51 314.95h0M264.92 313.97h0M262.58 313.61h0M262.36 317.18h0M262.83 314.18h0M263.84 316.69h0M262.12 316.05h0M263.9 310.8h0M264.47 314.65h0M260.31 316.27h0M260.04 312.16h0M260.2 316.63h0M264.37 311.16h0M259.9 314.73h0M264.1 315.61h0M259.9 314.12h0M262.22 315.68h0M265.94 314.88h0M265.13 316.63h0M261.69 311.59h0M259.59 314.39h0M261.31 317.92h0M261.55 312.47h0M265.05 312.41h0M262.82 314.67h0M259.88 313.65h0M265.1 321.04h0M265.03 326.02h0M260.84 320.57h0M262.99 318.52h0M262.52 321.74h0M263.29 322.89h0M264.68 321.66h0M265.43 320h0M259.88 323.56h0M262.96 321.14h0M263.17 322.09h0M261.3 321.24h0M261.42 325.96h0M264.69 325.11h0M262.46 323.92h0M262.4 327.35h0M259.92 326.78h0M263.64 322.34h0M265.07 318.49h0M263.37 318.72h0M261.47 358.4h0M264.44 367.3h0M262.99 377.2h0M263.95 408.4h0M363.99 330.54h0M361.56 338.72h0M365.04 317.26h0M365.55 314.24h0M360.32 317.07h0M364.69 311.9h0M362.33 351.48h0M361.32 337.97h0M364.06 349.4h0M360.04 314.66h0M359.94 339.68h0M361.55 346.17h0M363.4 318.26h0M363.26 322.24h0M365.51 314.62h0M365.06 322.5h0M364.79 314.53h0M362.18 352.83h0M362.11 309.02h0M361.1 337.14h0M360.27 332.74h0M364.34 328.98h0M364.02 327.38h0M364.98 312.79h0M365.58 313.15h0M365.69 353.57h0M361.54 331.84h0M364.48 323.59h0M365.63 330.47h0M362.78 311.8h0M363.5 347.46h0M360.24 332.51h0M361.41 313.96h0M365.09 348.8h0M365.59 318.01h0M363.51 309h0M361.88 352.24h0M363.88 351.18h0M361.81 309.82h0M361.26 328.3h0M360.82 406.64h0M361.58 409.88h0M363.25 358.7h0M363.21 360.57h0M363.49 409.89h0M359.89 386.62h0M360.3 390.33h0M360.52 399.84h0M361.93 394.93h0M363.92 380.45h0M360.76 365.43h0M361.8 420.84h0M365.26 413.76h0M360.63 387.97h0M365.3 360.45h0M362.85 362.09h0M360.43 391.94h0M360.72 387.08h0M362.92 391.9h0M360.94 379.89h0M360.98 382.51h0M361.21 362.81h0M362.89 415.85h0M359.77 417.21h0M362.8 420.96h0M363.33 410.11h0M361.14 402.84h0M360.66 407.19h0M359.87 372.57h0M362.99 381.77h0M365.37 374.55h0M363.38 359.76h0M363.48 370.42h0M364.22 409.61h0M361.25 358.18h0M365.97 396.44h0M363.63 356.69h0M364.89 403.04h0M364.86 378.12h0M365.57 386.65h0M365.69 354.52h0M362.28 383.1h0M361.24 360.02h0M364.02 406.03h0M361.88 364.53h0M360.94 363.75h0M361.79 369.4h0M366.06 423.29h0M362.75 410.15h0M364.66 389.18h0M364.48 441.35h0M360.95 436.46h0M365.09 436.25h0M360.27 439.16h0M361.91 437.91h0M365.86 427.92h0M364.45 437.11h0M364.98 427.43h0M365.47 441.87h0M365 438.41h0M363.45 439.44h0M364.96 432.84h0M365.25 439.12h0M365.82 430.38h0M365.73 434.57h0M365.87 427.09h0M361.29 439.17h0M361.16 440.09h0M362.61 428.56h0M362.83 429.26h0M364.06 441.35h0M362.18 437.79h0M364.75 439.11h0M365.7 437.29h0M362.27 439.86h0M363.85 426.57h0M361.85 440.05h0M365.03 435.71h0M359.7 439.27h0M359.78 433.8h0M364.87 426.99h0M363.55 432.54h0M361.82 433.23h0M361.94 428.85h0M363.64 440.2h0M389.24 305.79h0M393.16 305.55h0M392.91 307.47h0M389.45 311.58h0M388.94 310.18h0M389.85 311.76h0M394.8 305.55h0M390.11 306.58h0M392.58 312.51h0M391.2 312.56h0M394.79 308.12h0M395 308.2h0M393.99 304.63h0M392.05 304.32h0M389.8 302.5h0M391.58 313.13h0M390.28 311.61h0M389.32 306.46h0M394.19 308.72h0M391.09 308.28h0M394.4 312.95h0M389.16 310h0M391.52 309.52h0M390.99 313.28h0M392.72 309.94h0M392.02 317.23h0M394.48 320.01h0M391 318.36h0M389.04 322.78h0M393.05 321.47h0M391.54 318.91h0M394.38 320.7h0M393.47 320.49h0M390.76 314.07h0M394.77 315.02h0M389.6 322h0M392.37 319.18h0M391.19 314.18h0M392.78 320.66h0M393.55 316.35h0M392.16 316.44h0M394.94 317.64h0M393.83 319.75h0M391.11 320.01h0M393.22 322.66h0M390.45 320.14h0M392.36 315.25h0M393.75 321.39h0M389.57 316.96h0M394.29 318.52h0M393.4 315.25h0M390.67 315.33h0M390.58 314.24h0M394.86 317.29h0M389.87 322.65h0M394.71 316.61h0M390.73 315.58h0M389.37 317.8h0M391.2 316.16h0M394.84 317.32h0M389.98 316.22h0M391.56 322.16h0M392.75 321.49h0M390.69 320.95h0M393.52 315.16h0M392.25 318.1h0M393.49 319.95h0M391 316.3h0M392.06 322.24h0M392.71 316.42h0M393.61 316.15h0M393.97 314.13h0M390.94 318.99h0M390.37 322.44h0M389.12 316h0M393.5 318.82h0M391.32 320.02h0M389.39 321.22h0M392.8 316.59h0M392.73 322.7h0M393.63 320.15h0M394.69 317.4h0M390.86 320.62h0M393.83 317.38h0M389.86 316.98h0M392.08 332.37h0M392.96 328.6h0M389.53 332.69h0M389.1 326.64h0M391.89 327.44h0M392.95 332.16h0M391.26 329.21h0M390.43 329.17h0M393.72 332.08h0M389.64 332.01h0M393.5 330.22h0M394.42 328.38h0M393.43 332.66h0M392.83 331.83h0M389.52 332.45h0M393.18 330.57h0M390.44 329.58h0M392.54 323.72h0M390.42 331.86h0M390.11 325.29h0M393 324.01h0M393.81 333.48h0M393.15 326.87h0M394.04 323.78h0M388.7 326.5h0M389.56 347.75h0M389.05 339.87h0M392.23 343.67h0M388.93 351.71h0M389.38 352.16h0M392.7 338.74h0M390.79 341.32h0M390.07 346.4h0M390.01 351.4h0M393.85 352.43h0M388.87 345.7h0M388.86 351.06h0M391.89 371.6h0M391.57 378h0M390.13 434.7h0M493.06 347.79h0M490.99 346.3h0M492.19 343.9h0M493.98 334.47h0M493.57 359.86h0M490.53 358.72h0M488.88 359.55h0M489.28 342.77h0M492.79 341.98h0M491.33 350.38h0M489.64 372.47h0M490.23 374.71h0M493.14 367.09h0M491.23 378.84h0M492.93 367.22h0M490.12 367.18h0M492.91 380.45h0M493.21 395.52h0M494.31 394.61h0M493.03 386.37h0M489.74 362.29h0M493.95 360.47h0M492.46 386.35h0M490.7 369.63h0M492.47 365.97h0M490.38 396.19h0M489.55 361.61h0M494.18 372.97h0M491.34 389.36h0M489.11 363.73h0M493.4 365.62h0M494.76 377.2h0M493.51 393.28h0M493.69 377.38h0M489.12 364.68h0M491.68 380.56h0M490.04 367.64h0M494.24 360.77h0M494.48 385.92h0M491.22 395.79h0M490.88 386.73h0M493.81 389.63h0M488.51 364.88h0M492.17 367.81h0M488.48 373.83h0M493.46 434.69h0M488.7 417.83h0M491.84 437.39h0M490.49 399.77h0M494.09 425.23h0M492.52 418.79h0M489.98 405.96h0M490.87 438.17h0M492.21 401.28h0M489.7 402.31h0M492.17 417.49h0M492.95 425.77h0M488.86 416.72h0M488.77 429.83h0M490.99 418.15h0M492.99 427.45h0M492.58 407.53h0M491.44 428.33h0M494.24 403.02h0M488.83 424.06h0M494.74 407.48h0M490.94 407.02h0M493.7 432.75h0M493.17 425.66h0M489.03 398.26h0M493.56 441.4h0M488.74 398.25h0M494.38 407.56h0M492.73 406.6h0M492.51 439.3h0M490.11 438.79h0M488.54 403.56h0M489.09 431.33h0M492.97 441.27h0M493.59 405.1h0M491.7 403.99h0M493.46 401.37h0M494.29 437.42h0M493.87 396.6h0M493.68 422.07h0M492.39 419.61h0M493.54 423.85h0M488.77 400.07h0M490.29 421.59h0M488.47 414.76h0M488.58 430.77h0M493.62 434.66h0M489.21 417.57h0M489.75 426.4h0M489.13 416.24h0M491.92 441.42h0M489.03 412.72h0M493.86 430.09h0M489.07 435.52h0M490.36 413.41h0M489.37 431.57h0M494.69 424.4h0M488.47 431.86h0M489.15 399.95h0M492.26 428.35h0M491.34 444.58h0M492.34 444.13h0M494.29 445.09h0M493.52 445.43h0M493.78 446.15h0M488.62 445.37h0M493.86 445.22h0M494.05 444.22h0M494.46 443.22h0M492.95 444.27h0M490.35 443.51h0M490.5 443.89h0M491.26 442.88h0M492.61 446.42h0M493.3 446.23h0M492.97 303h0M523.24 369.85h0M520.02 350.4h0M518.56 354.14h0M524.1 349.23h0M520.53 367.86h0M523.38 363.8h0M523.51 367.03h0M519.1 357.36h0M520.43 365.29h0M520.77 359.93h0M524.61 357.51h0M521.82 347.35h0M521.87 382.35h0M521.03 387.82h0M522.84 387.36h0M519 388.38h0M520.26 374.04h0M518.51 387.22h0M523.01 374.94h0M519.55 388.8h0M522.82 378.32h0M523.2 383.12h0M520.02 384.31h0M518.6 374.89h0M519.76 383.13h0M524.6 374.93h0M522.21 382.22h0M522.25 382.47h0M520.37 383.2h0M518.85 371.21h0M520.74 370.28h0M519.15 372.7h0M524.63 379.38h0M520.18 383.06h0M519.56 384.62h0M520.37 371.9h0M522.84 377.77h0M523.09 378.45h0M524.39 371.8h0M523.75 376.5h0M523.73 370.58h0M523.9 374.3h0M522.72 414.89h0M518.49 397.95h0M524.22 395.13h0M522.64 394.1h0M522.66 407.93h0M519.34 394.82h0M524.71 392.13h0M522.6 401.35h0M519.85 407.37h0M518.52 391.09h0M519.26 416.49h0M520.75 420.06h0M519.31 412.31h0M520.04 414.41h0M521.77 400.81h0M520.01 392.59h0M520.25 414.67h0M523.32 401.28h0M519.67 396.22h0M520.88 396.06h0M522.53 400.78h0M523.99 404.22h0M522.67 390.63h0M519.93 415.97h0M521.23 389.95h0M521.37 392.74h0M519.02 411.95h0M521.49 392.8h0M519.9 394.61h0M519.18 403.2h0M520.74 391.19h0M524.42 404.13h0M518.88 406.89h0M523.19 396.17h0M523.99 407.15h0M523.92 420.04h0M524.46 392.55h0M519.96 405.93h0M523.96 394.5h0M518.96 395.85h0M524.34 397.56h0M523.11 403.87h0M521.32 391.4h0M519.74 399.25h0M520.74 410.38h0M524.72 392.86h0M519.58 404.53h0M522.6 389.35h0M518.58 405.6h0M523.16 404.17h0M519.92 406.32h0M522.3 405.09h0M519.35 410h0M524.48 414.92h0M523.91 412.88h0M524.2 400.86h0M519.88 394.86h0M524.2 408.28h0M519.81 391.64h0M521.23 390.16h0M519.65 393.53h0M522.16 413.15h0M521 419.3h0M518.51 410.9h0M519.92 419.59h0M521.7 404.38h0M521.57 419.58h0M522.4 420.99h0M523.76 395.98h0M524.82 395.51h0M519.87 432.78h0M520.48 445.52h0M520.62 431.53h0M518.57 438.13h0M519.46 430.69h0M518.43 442.16h0M520.08 436.59h0M522.02 432.72h0M519.31 439.22h0M519.2 427.32h0M519.38 445.5h0M521.77 424.71h0M524.1 435.93h0M519.92 422.69h0M522.17 425.48h0M521.04 432.67h0M522.66 443.68h0M524.55 442.97h0M524.45 428.04h0M518.76 431.55h0M519.09 444.35h0M520.28 421.69h0M524.61 428.55h0M521.11 443.23h0M523.86 434.62h0M522.61 441.63h0M519.17 434.2h0M522.64 427.4h0M523.55 436.05h0M524.58 443.94h0M520.4 337h0M627.04 319.5h0M622.46 348.79h0M622.94 356.01h0M623.64 329.02h0M625.64 346.04h0M626.04 319.35h0M624.32 351.99h0M626.42 354.82h0M624.34 315.57h0M625.84 355.17h0M622.45 353.37h0M626.33 371.79h0M624.06 328.8h0M622.63 371.76h0M627.45 339.24h0M622.79 368.33h0M623.6 358.56h0M626.21 354.3h0M622.72 322.56h0M623 327.74h0M622.17 317.11h0M623.99 339.06h0M625.03 319.61h0M624.99 370.84h0M625.81 336.07h0M622.42 340.91h0M621.41 343.54h0M622.33 355.05h0M627.46 336.91h0M626.65 360.43h0M625.36 353.04h0M627.48 356.77h0M626.2 326.63h0M622.94 332.83h0M625.15 363.68h0M626.9 365.34h0M622.57 349.89h0M624.72 315.89h0M623.04 357.99h0M621.33 319.15h0M625.75 384.77h0M622.77 374.49h0M625.85 390.36h0M621.42 434.22h0M627.28 381.19h0M622.25 433.18h0M624.64 394.62h0M623.97 393.7h0M622.95 403.34h0M621.84 377.59h0M621.88 384.12h0M625.76 412.16h0M626.37 390.22h0M623.49 418.52h0M622.51 404.13h0M624.89 430.68h0M622.29 377.36h0M623.77 416.33h0M622.77 417.81h0M626.43 422.68h0M625.05 379.97h0M625.83 385.87h0M626.36 423.09h0M621.9 388.3h0M624.92 414.55h0M622.53 382.65h0M621.99 409.64h0M622.84 412.76h0M624.01 389.96h0M625.94 406.64h0M625.94 376.13h0M623.16 387.67h0M625.72 413.12h0M627.07 411.59h0M623.29 386.68h0M622.97 414.5h0M622.75 383.81h0M626.59 421.11h0M627.44 417.76h0M623.28 422.51h0M625.92 393.41h0M625.2 377.63h0M621.61 379.67h0M622.27 405.46h0M626.91 430.85h0M622.57 402.3h0M624.54 381.51h0M623.62 405.92h0M624.69 417.77h0M621.98 421.36h0M623.78 435.77h0M622.92 440.32h0M622.72 442.35h0M624.35 438.5h0M626.23 442.84h0M624.16 439.09h0M627.28 445.2h0M621.97 441.81h0M625.38 440.01h0M621.54 438.06h0M627.12 445.79h0M624.28 436.42h0M623.22 441.81h0M626.1 435.75h0M624.1 443.48h0M623.82 435.94h0M627.47 436.03h0M623.14 435.56h0M622.16 443.45h0M621.75 436.17h0M624.7 436.8h0M622.38 444.16h0M626.2 436.91h0M623.46 439.68h0M622.85 436.36h0M622.05 445.69h0M626.04 437.86h0M627.09 444.81h0M627.42 440.2h0M623.15 441.64h0M625.88 440.12h0M622.13 443.07h0M627.43 437.13h0M626.51 436.18h0M622.89 438.73h0M624.3 437.81h0M622.25 445.9h0M623.36 444.4h0M626.07 436.9h0M622.5 438.76h0M656.18 308.77h0M654.6 314.11h0M655.81 303.87h0M656.68 311.03h0M653.02 315.17h0M656.17 313.93h0M653.27 306.94h0M653.18 308.25h0M651.63 308.29h0M656.75 306.48h0M654.99 308.68h0M655.76 314.4h0M656.81 306.68h0M657.27 313.4h0M655.76 312.49h0M652.55 313.51h0M653.36 311.62h0M651.78 313.83h0M653.08 310.22h0M653.13 313.6h0M656.35 313.88h0M651.82 314.3h0M655.69 315.01h0M655.1 311.87h0M656.49 304.33h0M653.84 310.32h0M655.94 307.82h0M656.49 313.14h0M653.1 306.32h0M651.57 306.74h0M651.09 324.66h0M652.38 337.46h0M651.36 317.68h0M652.2 335.95h0M653.5 328.34h0M657.03 337.62h0M654.97 324.19h0M653.94 340.13h0M655.62 340.27h0M656.52 324.24h0M651.6 331.37h0M656.23 331.76h0M654.02 329.88h0M656.56 327.1h0M652.26 333.89h0M653.25 325.62h0M655.38 341.87h0M656.78 319.15h0M654.71 316.7h0M655.52 327.53h0M651.52 327.45h0M656.18 330.02h0M653.21 337.25h0M655.69 321.81h0M652.33 337.6h0M657.28 339.81h0M653.36 327.56h0M656.88 335.09h0M652.86 321.25h0M655.61 324.72h0M654.42 320.84h0M655.2 329.38h0M657.05 319.65h0M654.52 343h0M652.1 337.42h0M654.45 340.55h0M656.48 336.45h0M656.84 325.61h0M651.07 321.4h0M656.68 329.44h0M657.04 340.29h0M656.89 329.67h0M651.84 331.01h0M656.07 332.95h0M654.78 327.3h0M652.69 322.81h0M654.21 327.2h0M651.52 328.51h0M653.1 315.9h0M655.71 335.29h0M652.56 322.21h0M652.05 329.83h0M656.71 332.18h0M654.67 321.25h0M655.72 335.39h0M655.47 335.15h0M656.29 323.18h0M651.26 340.96h0M653.76 341.48h0M651.37 318.1h0M655.26 337.46h0M653.87 319.62h0M657.31 333.15h0M655.83 324.91h0M652.2 322.43h0M653.55 320.14h0M652.87 332.6h0M652.32 320.16h0M652.16 318.07h0M654.15 324.36h0M654 320.75h0M657.15 327.74h0M656.97 329h0M652.19 328.6h0M651.85 331.88h0M651.39 320.36h0M657.11 334.86h0M653.19 326.74h0M653.18 327.34h0M653.43 334.57h0M656.46 344.83h0M650.97 349.87h0M655.59 353.19h0M654.96 347.25h0M653.5 354.04h0M652.83 348.19h0M655.17 349.65h0M657 351.82h0M653.27 344.74h0M655.99 353.22h0M655.26 370.49h0M656.97 363.93h0M653.5 369.42h0M651.66 359.79h0M656.05 378.56h0M652.99 355.7h0M654.1 367.59h0M656.65 364.54h0M653.52 402h0" stroke="#111" stroke-width="1.25" stroke-linecap="round" fill="none"/>
</svg>
</body></html>
